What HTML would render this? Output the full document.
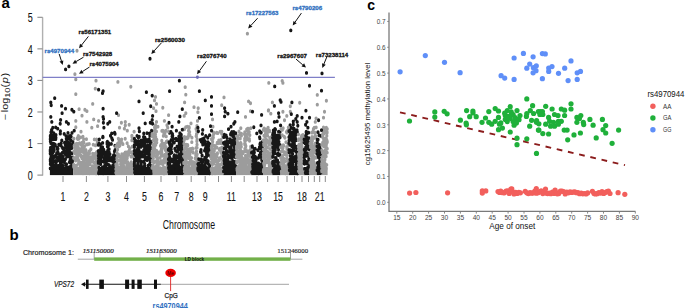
<!DOCTYPE html>
<html><head><meta charset="utf-8"><style>
html,body{margin:0;padding:0;background:#fff;}
body{width:685px;height:308px;overflow:hidden;font-family:"Liberation Sans", sans-serif;}
svg{display:block;}
</style></head><body>
<svg width="685" height="308" viewBox="0 0 685 308">
<rect width="685" height="308" fill="#fff"/>
<text transform="translate(1.60 7.90) scale(1.000 1)" font-size="15.00" font-weight="bold" font-style="normal" text-anchor="start" fill="#000" font-family='"Liberation Sans", sans-serif'>a</text>
<text transform="translate(9.60 240.40) scale(1.000 1)" font-size="15.00" font-weight="bold" font-style="normal" text-anchor="start" fill="#000" font-family='"Liberation Sans", sans-serif'>b</text>
<text transform="translate(367.20 10.20) scale(1.000 1)" font-size="14.00" font-weight="bold" font-style="normal" text-anchor="start" fill="#000" font-family='"Liberation Sans", sans-serif'>c</text>
<path d="M42.6 17.3V175.6" stroke="#b0b0b0" stroke-width="1.4" fill="none"/>
<path d="M37.4 175.10H42.6" stroke="#8a8a8a" stroke-width="1.1"/>
<text transform="translate(32.60 180.00) scale(0.720 1)" font-size="12.40" font-weight="normal" font-style="normal" text-anchor="end" fill="#111" font-family='"Liberation Sans", sans-serif' stroke="#111" stroke-width="0.1">0</text>
<path d="M37.4 143.54H42.6" stroke="#8a8a8a" stroke-width="1.1"/>
<text transform="translate(32.60 148.44) scale(0.720 1)" font-size="12.40" font-weight="normal" font-style="normal" text-anchor="end" fill="#111" font-family='"Liberation Sans", sans-serif' stroke="#111" stroke-width="0.1">1</text>
<path d="M37.4 111.98H42.6" stroke="#8a8a8a" stroke-width="1.1"/>
<text transform="translate(32.60 116.88) scale(0.720 1)" font-size="12.40" font-weight="normal" font-style="normal" text-anchor="end" fill="#111" font-family='"Liberation Sans", sans-serif' stroke="#111" stroke-width="0.1">2</text>
<path d="M37.4 80.42H42.6" stroke="#8a8a8a" stroke-width="1.1"/>
<text transform="translate(32.60 85.32) scale(0.720 1)" font-size="12.40" font-weight="normal" font-style="normal" text-anchor="end" fill="#111" font-family='"Liberation Sans", sans-serif' stroke="#111" stroke-width="0.1">3</text>
<path d="M37.4 48.86H42.6" stroke="#8a8a8a" stroke-width="1.1"/>
<text transform="translate(32.60 53.76) scale(0.720 1)" font-size="12.40" font-weight="normal" font-style="normal" text-anchor="end" fill="#111" font-family='"Liberation Sans", sans-serif' stroke="#111" stroke-width="0.1">4</text>
<path d="M37.4 17.30H42.6" stroke="#8a8a8a" stroke-width="1.1"/>
<text transform="translate(32.60 22.20) scale(0.720 1)" font-size="12.40" font-weight="normal" font-style="normal" text-anchor="end" fill="#111" font-family='"Liberation Sans", sans-serif' stroke="#111" stroke-width="0.1">5</text>
<text id="ylab" transform="translate(7.8 120.6) rotate(-90) scale(1.26 1)" font-size="8.6" font-family='"Liberation Sans", sans-serif' fill="#111">&#8722;<tspan dx="1.6">log</tspan><tspan font-size="7.4" dy="1.7">10</tspan><tspan dy="-1.7">(</tspan><tspan font-style="italic" dx="0.5">p</tspan><tspan dx="0.6">)</tspan></text>
<path d="M63.00 176V182" stroke="#8a8a8a" stroke-width="1"/>
<text transform="translate(63.00 200.50) scale(0.720 1)" font-size="12.20" font-weight="normal" font-style="normal" text-anchor="middle" fill="#111" font-family='"Liberation Sans", sans-serif' stroke="#111" stroke-width="0.1">1</text>
<path d="M86.40 176V182" stroke="#8a8a8a" stroke-width="1"/>
<text transform="translate(86.40 200.50) scale(0.720 1)" font-size="12.20" font-weight="normal" font-style="normal" text-anchor="middle" fill="#111" font-family='"Liberation Sans", sans-serif' stroke="#111" stroke-width="0.1">2</text>
<path d="M107.90 176V182" stroke="#8a8a8a" stroke-width="1"/>
<text transform="translate(107.90 200.50) scale(0.720 1)" font-size="12.20" font-weight="normal" font-style="normal" text-anchor="middle" fill="#111" font-family='"Liberation Sans", sans-serif' stroke="#111" stroke-width="0.1">3</text>
<path d="M126.50 176V182" stroke="#8a8a8a" stroke-width="1"/>
<text transform="translate(126.50 200.50) scale(0.720 1)" font-size="12.20" font-weight="normal" font-style="normal" text-anchor="middle" fill="#111" font-family='"Liberation Sans", sans-serif' stroke="#111" stroke-width="0.1">4</text>
<path d="M144.40 176V182" stroke="#8a8a8a" stroke-width="1"/>
<text transform="translate(144.40 200.50) scale(0.720 1)" font-size="12.20" font-weight="normal" font-style="normal" text-anchor="middle" fill="#111" font-family='"Liberation Sans", sans-serif' stroke="#111" stroke-width="0.1">5</text>
<path d="M161.00 176V182" stroke="#8a8a8a" stroke-width="1"/>
<text transform="translate(161.00 200.50) scale(0.720 1)" font-size="12.20" font-weight="normal" font-style="normal" text-anchor="middle" fill="#111" font-family='"Liberation Sans", sans-serif' stroke="#111" stroke-width="0.1">6</text>
<path d="M176.80 176V182" stroke="#8a8a8a" stroke-width="1"/>
<text transform="translate(176.80 200.50) scale(0.720 1)" font-size="12.20" font-weight="normal" font-style="normal" text-anchor="middle" fill="#111" font-family='"Liberation Sans", sans-serif' stroke="#111" stroke-width="0.1">7</text>
<path d="M191.20 176V182" stroke="#8a8a8a" stroke-width="1"/>
<text transform="translate(191.20 200.50) scale(0.720 1)" font-size="12.20" font-weight="normal" font-style="normal" text-anchor="middle" fill="#111" font-family='"Liberation Sans", sans-serif' stroke="#111" stroke-width="0.1">8</text>
<path d="M205.20 176V182" stroke="#8a8a8a" stroke-width="1"/>
<text transform="translate(205.20 200.50) scale(0.720 1)" font-size="12.20" font-weight="normal" font-style="normal" text-anchor="middle" fill="#111" font-family='"Liberation Sans", sans-serif' stroke="#111" stroke-width="0.1">9</text>
<path d="M218.50 176V182" stroke="#8a8a8a" stroke-width="1"/>
<path d="M231.40 176V182" stroke="#8a8a8a" stroke-width="1"/>
<text transform="translate(231.40 200.50) scale(0.720 1)" font-size="12.20" font-weight="normal" font-style="normal" text-anchor="middle" fill="#111" font-family='"Liberation Sans", sans-serif' stroke="#111" stroke-width="0.1">11</text>
<path d="M244.20 176V182" stroke="#8a8a8a" stroke-width="1"/>
<path d="M257.00 176V182" stroke="#8a8a8a" stroke-width="1"/>
<text transform="translate(257.00 200.50) scale(0.720 1)" font-size="12.20" font-weight="normal" font-style="normal" text-anchor="middle" fill="#111" font-family='"Liberation Sans", sans-serif' stroke="#111" stroke-width="0.1">13</text>
<path d="M267.60 176V182" stroke="#8a8a8a" stroke-width="1"/>
<path d="M278.10 176V182" stroke="#8a8a8a" stroke-width="1"/>
<text transform="translate(278.10 200.50) scale(0.720 1)" font-size="12.20" font-weight="normal" font-style="normal" text-anchor="middle" fill="#111" font-family='"Liberation Sans", sans-serif' stroke="#111" stroke-width="0.1">15</text>
<path d="M287.00 176V182" stroke="#8a8a8a" stroke-width="1"/>
<path d="M294.50 176V182" stroke="#8a8a8a" stroke-width="1"/>
<path d="M302.00 176V182" stroke="#8a8a8a" stroke-width="1"/>
<text transform="translate(302.00 200.50) scale(0.720 1)" font-size="12.20" font-weight="normal" font-style="normal" text-anchor="middle" fill="#111" font-family='"Liberation Sans", sans-serif' stroke="#111" stroke-width="0.1">18</text>
<path d="M308.50 176V182" stroke="#8a8a8a" stroke-width="1"/>
<path d="M314.30 176V182" stroke="#8a8a8a" stroke-width="1"/>
<path d="M319.70 176V182" stroke="#8a8a8a" stroke-width="1"/>
<text transform="translate(319.70 200.50) scale(0.720 1)" font-size="12.20" font-weight="normal" font-style="normal" text-anchor="middle" fill="#111" font-family='"Liberation Sans", sans-serif' stroke="#111" stroke-width="0.1">21</text>
<path d="M325.30 176V182" stroke="#8a8a8a" stroke-width="1"/>
<text transform="translate(189.00 229.10) scale(0.700 1)" font-size="12.50" font-weight="normal" font-style="normal" text-anchor="middle" fill="#111" font-family='"Liberation Sans", sans-serif'>Chromosome</text>
<rect x="49.90" y="167" width="23.40" height="8.1" fill="#171717"/>
<rect x="73.30" y="167" width="24.70" height="8.1" fill="#9c9c9c"/>
<rect x="98.00" y="167" width="17.50" height="8.1" fill="#171717"/>
<rect x="115.50" y="167" width="18.50" height="8.1" fill="#9c9c9c"/>
<rect x="134.00" y="167" width="17.70" height="8.1" fill="#171717"/>
<rect x="151.70" y="167" width="16.30" height="8.1" fill="#9c9c9c"/>
<rect x="168.00" y="167" width="15.40" height="8.1" fill="#171717"/>
<rect x="183.40" y="167" width="14.10" height="8.1" fill="#9c9c9c"/>
<rect x="197.50" y="167" width="12.90" height="8.1" fill="#171717"/>
<rect x="210.40" y="167" width="12.80" height="8.1" fill="#9c9c9c"/>
<rect x="223.20" y="167" width="12.80" height="8.1" fill="#171717"/>
<rect x="236.00" y="167" width="15.20" height="8.1" fill="#9c9c9c"/>
<rect x="251.20" y="167" width="11.80" height="8.1" fill="#171717"/>
<rect x="263.00" y="167" width="9.30" height="8.1" fill="#9c9c9c"/>
<rect x="272.30" y="167" width="8.10" height="8.1" fill="#171717"/>
<rect x="280.40" y="167" width="8.20" height="8.1" fill="#9c9c9c"/>
<rect x="288.60" y="167" width="9.40" height="8.1" fill="#171717"/>
<rect x="298.00" y="167" width="5.80" height="8.1" fill="#9c9c9c"/>
<rect x="303.80" y="167" width="5.80" height="8.1" fill="#171717"/>
<rect x="309.60" y="167" width="7.10" height="8.1" fill="#9c9c9c"/>
<rect x="316.70" y="167" width="4.60" height="8.1" fill="#171717"/>
<rect x="321.30" y="167" width="6.30" height="8.1" fill="#9c9c9c"/>
<path d="M67.1 146.6v.7M69.8 146.1v.7M65.4 158.9v.7M53.9 135.6v.7M61.2 142.9v.7M62.3 169.8v.7M55.9 137.4v.7M69.7 167.2v.7M50.5 150.8v.7M50.6 158.3v.7M71.9 166.9v.7M51.6 129.5v.7M51.1 142.0v.7M68.1 153.9v.7M60.3 144.1v.7M53.7 138.7v.7M66.5 163.9v.7M64.2 133.5v.7M66.4 144.8v.7M66.5 170.9v.7M69.7 156.6v.7M57.2 148.4v.7M60.4 170.8v.7M60.3 158.9v.7M71.4 146.6v.7M68.1 146.2v.7M52.8 159.5v.7M63.2 167.0v.7M71.4 166.4v.7M51.5 155.9v.7M59.3 172.7v.7M50.8 142.7v.7M69.5 155.4v.7M68.2 136.5v.7M57.4 147.5v.7M64.9 153.0v.7M59.0 165.3v.7M51.9 165.6v.7M71.0 152.7v.7M72.8 141.4v.7M71.0 172.4v.7M51.7 149.4v.7M65.6 154.2v.7M67.1 153.4v.7M70.1 159.9v.7M58.9 166.4v.7M60.6 159.7v.7M53.8 147.7v.7M54.1 134.8v.7M61.6 160.8v.7M61.1 162.5v.7M54.1 149.9v.7M65.4 144.4v.7M72.0 132.5v.7M67.0 150.4v.7M64.5 160.5v.7M56.8 160.8v.7M57.8 172.5v.7M72.9 157.0v.7M54.8 160.9v.7M63.5 160.5v.7M67.0 156.2v.7M63.8 151.3v.7M59.9 172.7v.7M60.8 155.7v.7M50.3 138.8v.7M58.8 172.7v.7M62.9 148.1v.7M72.0 152.9v.7M64.6 142.3v.7M71.5 160.9v.7M60.9 171.8v.7M55.7 160.5v.7M67.4 154.5v.7M60.0 164.7v.7M51.3 139.2v.7M50.4 161.0v.7M56.8 153.4v.7M69.3 149.7v.7M69.0 150.0v.7M61.1 154.7v.7M52.2 155.5v.7M56.1 154.7v.7M51.1 156.1v.7M50.7 141.7v.7M66.7 139.7v.7M65.0 151.1v.7M71.2 168.8v.7M57.2 153.3v.7M62.4 161.2v.7M67.9 143.4v.7M52.8 152.2v.7M71.5 147.9v.7M67.7 138.8v.7M68.0 132.5v.7M68.5 167.1v.7M66.6 167.4v.7M53.1 157.6v.7M50.3 149.6v.7M54.9 144.1v.7M71.4 157.2v.7M53.5 148.7v.7M70.6 161.7v.7M63.1 171.6v.7M54.4 144.3v.7M66.1 135.7v.7M62.9 171.4v.7M63.3 170.6v.7M62.1 160.0v.7M56.9 157.0v.7M60.5 158.6v.7M62.8 161.2v.7M51.9 156.3v.7M69.6 137.8v.7M70.0 170.5v.7M71.2 160.2v.7M68.9 155.6v.7M58.6 159.8v.7M71.6 159.5v.7M54.9 167.6v.7M52.2 168.4v.7M62.4 152.3v.7M71.8 164.1v.7M58.8 144.4v.7M56.9 165.2v.7M52.0 134.8v.7M62.6 171.6v.7M56.6 167.7v.7M66.0 147.0v.7M52.5 163.2v.7M53.3 135.2v.7M64.6 170.4v.7M57.8 151.4v.7M67.1 137.1v.7M53.8 170.9v.7M66.4 142.2v.7M66.5 168.2v.7M50.3 150.2v.7M69.6 167.2v.7M52.4 148.8v.7M51.5 146.7v.7M52.3 159.7v.7M60.3 133.2v.7M52.3 167.9v.7M64.2 148.1v.7M65.9 168.8v.7M59.3 159.0v.7M52.2 137.6v.7M58.3 168.0v.7M61.8 140.0v.7M50.3 151.3v.7M67.8 138.2v.7M50.3 168.0v.7M65.8 164.2v.7M55.9 134.5v.7M60.5 165.8v.7M50.3 159.6v.7M55.1 172.8v.7M70.7 140.4v.7M63.1 167.6v.7M68.2 145.9v.7M56.7 152.8v.7M61.8 159.3v.7M56.6 167.3v.7M51.4 152.2v.7M66.0 151.2v.7M55.4 164.2v.7M66.3 167.2v.7M50.9 152.4v.7M58.9 159.8v.7M68.3 150.3v.7M66.8 167.2v.7M69.5 161.9v.7M71.1 136.2v.7M67.9 171.7v.7M69.6 151.2v.7M54.2 156.7v.7M62.1 146.7v.7M59.5 167.9v.7M72.9 142.9v.7M59.2 167.5v.7M62.9 156.3v.7M53.3 168.3v.7M68.0 142.2v.7M66.5 147.1v.7M52.5 166.1v.7M70.8 140.0v.7M72.4 161.4v.7M70.3 156.4v.7M68.5 138.3v.7M53.2 168.0v.7M54.6 155.8v.7M50.4 163.7v.7M66.6 168.0v.7M62.8 165.2v.7M57.9 148.3v.7M67.5 155.5v.7M55.2 144.4v.7M50.5 136.8v.7M71.4 172.2v.7M70.2 135.6v.7M50.9 137.4v.7M53.5 151.1v.7M50.4 141.0v.7M59.0 168.1v.7M55.2 164.9v.7M65.2 172.2v.7M60.2 161.9v.7M57.9 167.4v.7M68.3 148.4v.7M60.4 130.9v.7M58.2 170.5v.7M50.4 136.3v.7M51.0 131.9v.7M66.3 138.4v.7M51.9 131.0v.7M69.1 137.0v.7M56.3 164.4v.7M65.8 146.7v.7M53.9 172.8v.7M53.5 143.3v.7M69.7 143.9v.7M63.6 160.7v.7M66.8 143.4v.7M65.9 141.8v.7M55.7 127.1v.7M71.3 160.4v.7M55.0 170.8v.7M67.8 171.8v.7M61.2 158.3v.7M55.7 138.7v.7M66.7 151.8v.7M51.0 137.4v.7M59.6 156.1v.7M62.2 171.0v.7M63.1 158.8v.7M50.6 147.3v.7M50.3 153.2v.7M53.2 147.4v.7M60.5 144.7v.7M72.5 159.9v.7M70.3 169.3v.7M59.3 156.9v.7M70.6 166.0v.7M52.7 144.8v.7M55.3 145.3v.7M68.8 149.2v.7M64.2 161.8v.7M64.0 169.9v.7M50.4 135.4v.7M71.0 162.2v.7M60.0 153.8v.7M71.3 144.9v.7M61.1 155.1v.7" stroke="#171717" stroke-width="3.1" stroke-linecap="round" fill="none"/>
<path d="M81.4 162.2v.7M87.0 160.8v.7M77.8 150.5v.7M96.8 165.9v.7M85.7 157.3v.7M87.6 165.3v.7M78.9 160.4v.7M88.4 164.6v.7M89.2 152.4v.7M76.6 143.3v.7M80.1 170.4v.7M94.5 170.1v.7M83.5 141.2v.7M95.8 159.3v.7M86.1 170.8v.7M86.7 144.1v.7M76.4 171.1v.7M74.8 158.6v.7M87.3 161.7v.7M74.8 153.1v.7M76.2 150.2v.7M97.6 165.0v.7M97.4 140.5v.7M73.7 164.2v.7M75.1 147.6v.7M84.5 154.9v.7M78.7 161.8v.7M97.0 157.2v.7M90.0 163.2v.7M87.5 154.9v.7M90.9 148.9v.7M89.0 161.7v.7M91.9 160.9v.7M82.1 158.1v.7M76.2 144.1v.7M78.3 135.6v.7M94.5 171.1v.7M88.4 157.6v.7M89.7 159.1v.7M78.1 146.9v.7M95.5 168.6v.7M82.6 143.3v.7M93.3 144.3v.7M85.2 165.7v.7M96.1 173.0v.7M87.5 158.4v.7M78.5 143.4v.7M75.9 150.5v.7M77.5 137.5v.7M85.3 163.3v.7M83.0 172.9v.7M80.2 165.9v.7M80.1 163.9v.7M83.7 138.7v.7M77.5 170.8v.7M89.8 150.8v.7M87.3 162.9v.7M78.6 148.3v.7M76.0 150.7v.7M92.7 166.7v.7M82.1 168.7v.7M78.8 138.4v.7M74.4 168.0v.7M96.1 162.4v.7M89.7 170.8v.7M83.7 150.2v.7M96.6 139.1v.7M78.1 150.8v.7M96.4 172.8v.7M88.7 158.9v.7M88.5 160.7v.7M75.8 150.2v.7M83.4 164.6v.7M87.7 155.3v.7M93.9 162.3v.7M95.3 166.3v.7M75.8 170.6v.7M78.1 151.8v.7M94.2 157.6v.7M73.7 157.6v.7M95.8 171.4v.7M93.5 157.2v.7M92.3 165.7v.7M95.1 164.3v.7M84.1 168.3v.7M83.2 146.5v.7M73.9 138.2v.7M82.8 157.1v.7M83.7 146.5v.7M81.8 165.1v.7M91.1 158.1v.7M82.9 157.0v.7M97.0 143.6v.7M83.4 159.3v.7M92.9 155.4v.7M82.8 167.3v.7M74.5 144.8v.7M88.4 159.0v.7M89.5 164.3v.7M77.3 171.7v.7M94.4 139.1v.7M83.8 142.1v.7M82.8 164.0v.7M77.8 138.8v.7M84.2 160.0v.7M95.0 155.2v.7M92.5 160.0v.7M78.4 153.1v.7M83.6 162.2v.7M74.5 147.3v.7M89.2 163.4v.7M86.8 168.3v.7M95.5 145.1v.7M81.3 155.2v.7M78.2 159.4v.7M76.5 165.1v.7M74.7 150.3v.7M89.4 153.3v.7M97.0 151.5v.7M83.7 152.1v.7M93.1 157.6v.7M83.6 164.1v.7M83.5 146.7v.7M84.5 164.4v.7M89.9 169.6v.7M75.4 145.4v.7M88.3 172.1v.7M94.3 157.5v.7M87.6 168.7v.7M90.6 169.5v.7M97.6 153.4v.7M81.1 156.4v.7M84.7 145.8v.7M73.7 138.3v.7M78.8 148.4v.7M75.5 171.4v.7M75.7 143.7v.7M75.8 169.9v.7M97.0 160.9v.7M92.1 160.0v.7M86.6 152.7v.7M77.6 156.2v.7M82.9 151.5v.7M94.7 154.4v.7M77.5 138.2v.7M86.4 138.7v.7M84.0 160.6v.7M82.1 142.4v.7M84.1 171.1v.7M83.5 168.4v.7M92.7 153.2v.7M74.0 151.1v.7M77.3 154.6v.7M80.5 137.0v.7M76.9 155.4v.7M94.3 153.6v.7M93.3 156.0v.7M90.5 156.8v.7M80.6 148.7v.7M77.7 158.6v.7M96.6 151.9v.7M82.9 136.2v.7M97.5 152.8v.7M77.0 145.4v.7M86.3 167.1v.7M82.3 146.3v.7M73.7 166.4v.7M78.9 163.4v.7M77.5 149.4v.7M77.3 152.9v.7M97.4 172.2v.7M86.0 159.1v.7M97.2 155.7v.7M97.4 165.6v.7M77.2 155.7v.7M93.0 171.3v.7M89.0 151.0v.7M79.4 169.6v.7M87.7 167.6v.7M84.7 151.3v.7M76.4 144.1v.7M83.2 164.3v.7M83.7 150.6v.7M79.3 154.6v.7M97.6 155.6v.7M97.2 154.1v.7M75.5 170.2v.7M80.4 170.8v.7M88.6 172.7v.7M80.2 151.9v.7M79.7 143.0v.7M97.5 141.8v.7M89.2 143.6v.7M79.6 142.7v.7M78.6 163.2v.7M80.3 151.8v.7M84.2 164.4v.7M86.0 157.6v.7M76.7 168.2v.7M84.9 155.6v.7M84.6 159.3v.7M82.5 149.2v.7M73.7 165.5v.7M75.6 160.3v.7M87.9 143.9v.7M89.4 158.5v.7M76.5 156.7v.7M89.1 157.5v.7M85.8 149.6v.7M81.0 144.2v.7M78.7 148.9v.7M78.6 149.3v.7M82.1 149.7v.7M96.9 158.6v.7M75.7 165.8v.7M95.2 168.0v.7M89.5 172.9v.7M76.5 171.6v.7" stroke="#9c9c9c" stroke-width="3.1" stroke-linecap="round" fill="none"/>
<path d="M101.0 170.9v.7M112.9 167.2v.7M99.2 152.9v.7M98.7 160.2v.7M114.8 171.8v.7M105.8 166.9v.7M109.9 166.4v.7M115.1 155.5v.7M108.7 142.8v.7M110.7 166.9v.7M100.9 152.1v.7M112.9 169.6v.7M113.4 155.2v.7M106.0 155.1v.7M109.0 171.0v.7M101.0 156.0v.7M101.8 156.5v.7M113.0 156.6v.7M107.5 146.2v.7M101.1 146.8v.7M113.3 160.8v.7M113.7 166.7v.7M113.3 171.8v.7M102.6 142.6v.7M103.0 148.9v.7M105.8 162.6v.7M112.4 157.1v.7M107.1 169.6v.7M109.1 148.7v.7M107.6 163.9v.7M102.8 152.9v.7M107.3 159.9v.7M108.2 151.3v.7M98.4 162.6v.7M108.9 153.0v.7M105.8 158.4v.7M100.6 163.7v.7M98.6 172.9v.7M98.4 150.6v.7M114.2 168.8v.7M99.0 167.2v.7M114.5 158.0v.7M108.7 144.7v.7M101.0 171.9v.7M108.8 148.5v.7M109.9 167.4v.7M114.5 151.0v.7M107.7 171.1v.7M111.3 143.5v.7M114.2 164.5v.7M107.1 143.5v.7M98.4 161.1v.7M101.8 147.9v.7M102.5 146.7v.7M112.9 164.8v.7M112.7 172.6v.7M104.4 158.8v.7M99.3 139.0v.7M104.3 166.4v.7M99.0 171.3v.7M98.4 155.3v.7M103.9 161.5v.7M102.4 167.0v.7M110.1 157.8v.7M100.8 148.6v.7M100.7 157.7v.7M107.8 150.1v.7M107.2 156.4v.7M102.7 171.1v.7M113.9 154.6v.7M100.4 144.0v.7M101.8 155.5v.7M102.5 150.0v.7M104.4 171.9v.7M98.6 157.8v.7M106.5 159.3v.7M100.7 150.6v.7M102.1 170.2v.7M101.5 169.8v.7M104.0 161.2v.7M98.4 144.5v.7M107.8 152.8v.7M101.8 154.0v.7M113.7 162.4v.7M112.4 169.1v.7M108.4 149.9v.7M111.7 160.4v.7M110.7 168.0v.7M104.3 161.2v.7M103.7 149.4v.7M103.2 160.9v.7M102.4 168.0v.7M103.5 150.2v.7M98.8 157.4v.7M110.5 135.4v.7M109.4 166.7v.7M99.2 172.5v.7M102.3 170.2v.7M109.7 160.1v.7M109.2 155.9v.7M101.0 154.4v.7M110.1 169.0v.7M102.7 137.1v.7M115.0 133.5v.7M103.4 153.2v.7M107.4 170.6v.7M101.1 156.2v.7M104.7 165.4v.7M114.0 170.6v.7M102.9 149.6v.7M104.1 157.4v.7M111.8 157.5v.7M115.0 145.3v.7M102.6 167.0v.7M106.3 154.1v.7M113.3 161.1v.7M107.4 141.3v.7M115.1 161.9v.7M111.0 169.5v.7M105.9 172.8v.7M99.1 143.0v.7M103.0 136.7v.7M108.0 151.4v.7M115.1 149.6v.7M104.7 157.4v.7M112.9 169.9v.7M108.8 164.6v.7M109.3 165.0v.7M104.9 154.7v.7M112.5 139.5v.7M107.1 141.7v.7M100.5 161.6v.7M104.8 151.8v.7M101.1 147.1v.7M109.0 151.5v.7M107.9 171.5v.7M109.6 157.4v.7M105.5 171.1v.7M107.2 151.6v.7M102.9 136.4v.7M105.9 163.4v.7M113.3 158.0v.7M101.6 160.7v.7M111.8 137.7v.7M109.9 153.8v.7M103.1 172.9v.7M98.7 152.4v.7M107.9 155.3v.7M112.4 166.2v.7M107.6 170.1v.7" stroke="#171717" stroke-width="3.1" stroke-linecap="round" fill="none"/>
<path d="M118.4 138.2v.7M118.9 146.0v.7M115.9 164.1v.7M131.1 156.2v.7M122.5 161.6v.7M132.7 156.2v.7M123.0 169.1v.7M127.9 171.4v.7M125.5 168.7v.7M119.8 145.3v.7M118.6 171.4v.7M127.7 151.7v.7M131.2 161.8v.7M132.9 165.6v.7M126.8 152.1v.7M130.9 163.1v.7M131.5 155.5v.7M119.4 168.2v.7M127.7 163.2v.7M124.6 172.7v.7M122.7 158.2v.7M133.5 151.4v.7M118.5 169.7v.7M125.3 152.0v.7M117.5 160.8v.7M128.3 165.4v.7M118.9 167.7v.7M117.9 169.6v.7M121.1 165.0v.7M126.1 169.2v.7M117.4 156.8v.7M119.8 169.6v.7M132.2 169.8v.7M129.4 149.5v.7M121.9 160.0v.7M117.3 164.1v.7M120.7 139.6v.7M117.4 143.5v.7M117.5 149.3v.7M117.4 166.5v.7M118.4 154.0v.7M124.6 158.6v.7M124.2 162.2v.7M117.4 159.8v.7M132.0 136.6v.7M115.9 172.3v.7M124.1 159.9v.7M124.7 155.3v.7M123.2 154.7v.7M119.5 170.0v.7M131.1 151.8v.7M121.6 139.0v.7M123.4 160.5v.7M125.9 155.2v.7M125.6 159.6v.7M116.2 166.0v.7M116.6 170.4v.7M127.3 156.0v.7M122.1 158.5v.7M117.8 172.8v.7M128.5 154.1v.7M123.1 172.2v.7M120.3 156.4v.7M115.9 168.8v.7M130.6 170.2v.7M127.6 161.5v.7M123.3 161.2v.7M119.1 167.5v.7M129.9 163.6v.7M129.8 148.0v.7M123.3 168.4v.7M125.8 161.7v.7M122.9 169.8v.7M122.0 167.5v.7M119.0 141.6v.7M132.2 146.2v.7M119.7 169.1v.7M133.6 152.9v.7M121.3 167.3v.7M129.1 164.3v.7M117.0 152.8v.7M128.9 171.2v.7M132.3 169.7v.7M132.3 164.3v.7M125.0 167.5v.7M132.7 170.8v.7M119.2 168.3v.7M130.0 168.6v.7M120.6 163.8v.7M120.1 142.2v.7M116.9 157.5v.7M127.2 164.8v.7M129.8 168.4v.7M121.9 153.8v.7M119.3 140.7v.7M123.3 164.7v.7M132.9 165.8v.7M127.4 164.6v.7M128.4 146.1v.7M130.5 167.4v.7M127.0 164.0v.7M125.2 138.4v.7M122.5 155.0v.7M127.1 142.8v.7M130.1 170.6v.7M124.2 166.3v.7M125.3 169.1v.7M115.9 145.9v.7M120.7 161.4v.7M128.4 152.7v.7M131.9 140.1v.7M119.8 159.8v.7M118.6 144.7v.7M126.8 169.7v.7M131.3 168.1v.7M118.1 166.9v.7M122.9 143.7v.7M131.9 135.2v.7M127.1 161.5v.7M121.9 142.2v.7M130.8 165.7v.7M127.2 157.9v.7M118.1 170.5v.7M128.0 172.0v.7M119.7 172.5v.7M123.4 167.5v.7M123.6 171.2v.7M122.8 169.4v.7M117.8 145.3v.7M122.8 160.9v.7M122.0 161.7v.7M124.6 153.0v.7" stroke="#9c9c9c" stroke-width="3.1" stroke-linecap="round" fill="none"/>
<path d="M140.2 172.3v.7M147.5 141.3v.7M150.9 142.7v.7M147.1 159.7v.7M139.5 160.4v.7M137.4 149.0v.7M135.3 154.8v.7M145.3 154.0v.7M151.3 152.8v.7M148.2 153.5v.7M141.1 140.1v.7M138.3 136.9v.7M147.8 168.9v.7M138.9 166.1v.7M145.2 152.1v.7M138.2 160.0v.7M134.4 165.7v.7M138.9 159.3v.7M148.0 139.6v.7M150.7 157.6v.7M145.1 145.3v.7M143.7 143.5v.7M139.2 136.4v.7M144.9 142.5v.7M141.9 156.2v.7M148.2 151.8v.7M145.2 141.9v.7M137.2 165.6v.7M149.2 158.6v.7M143.5 169.6v.7M144.6 154.8v.7M139.4 131.0v.7M141.7 152.6v.7M146.2 172.8v.7M150.0 151.7v.7M150.5 169.4v.7M148.5 145.3v.7M147.0 171.3v.7M141.7 152.1v.7M140.6 165.8v.7M134.4 159.0v.7M141.3 141.1v.7M140.0 151.8v.7M136.0 140.5v.7M144.4 149.4v.7M144.6 165.6v.7M142.4 169.2v.7M143.9 151.1v.7M141.0 146.6v.7M142.1 168.1v.7M143.7 142.3v.7M150.2 156.1v.7M144.2 140.7v.7M141.0 161.7v.7M141.8 153.1v.7M148.1 165.2v.7M144.6 146.9v.7M150.9 170.0v.7M137.9 147.5v.7M137.9 170.9v.7M149.6 171.1v.7M137.9 152.6v.7M144.7 146.5v.7M149.2 138.9v.7M150.3 142.2v.7M149.2 147.0v.7M150.1 171.9v.7M137.1 135.5v.7M148.9 150.3v.7M149.9 135.2v.7M134.5 168.8v.7M137.6 171.0v.7M142.4 152.3v.7M137.0 172.2v.7M138.6 170.3v.7M141.1 162.8v.7M148.0 145.1v.7M144.3 168.9v.7M147.9 149.1v.7M137.7 161.0v.7M151.3 172.8v.7M142.8 166.8v.7M143.6 136.6v.7M143.8 170.7v.7M144.0 172.4v.7M148.8 147.5v.7M136.5 144.0v.7M135.5 171.9v.7M149.8 163.6v.7M141.7 167.2v.7M138.3 141.0v.7M146.6 139.5v.7M135.8 154.3v.7M145.8 169.9v.7M147.2 149.9v.7M134.4 162.8v.7M135.9 154.6v.7M151.3 170.6v.7M143.3 170.7v.7M150.9 147.7v.7M142.0 142.4v.7M136.0 168.6v.7M143.8 150.0v.7M138.4 137.3v.7M148.6 171.6v.7M136.2 156.0v.7M135.8 159.7v.7M138.6 143.9v.7M138.3 168.4v.7M141.3 161.1v.7M134.4 153.2v.7M141.2 166.9v.7M139.3 158.3v.7M136.5 158.6v.7M134.9 141.2v.7M134.4 144.5v.7M148.1 139.8v.7M145.2 144.7v.7M140.4 167.2v.7M151.2 165.5v.7M146.9 151.7v.7M134.7 172.0v.7M137.0 149.5v.7M150.3 161.0v.7M138.1 147.5v.7M140.1 168.2v.7M148.3 156.7v.7M137.8 166.1v.7M139.0 153.7v.7M134.4 150.4v.7M144.6 163.4v.7M143.3 172.7v.7M148.6 172.6v.7M147.2 146.1v.7M134.4 161.7v.7M138.4 143.4v.7M134.4 146.8v.7M142.9 168.2v.7M142.6 167.5v.7M136.0 150.9v.7M139.5 155.1v.7M137.9 166.3v.7M138.4 146.7v.7M146.9 145.8v.7M145.2 158.9v.7M139.0 150.1v.7M150.8 142.5v.7M144.0 171.7v.7M141.8 170.0v.7M143.8 138.7v.7M134.4 138.3v.7M142.4 169.8v.7M143.9 161.2v.7M143.5 145.3v.7M148.8 153.4v.7M144.2 155.1v.7M138.9 143.2v.7M139.9 156.1v.7M144.3 142.1v.7M148.9 141.1v.7M142.1 170.6v.7M146.2 158.9v.7M150.5 156.4v.7M144.9 170.9v.7M135.1 141.8v.7M144.9 141.9v.7M141.3 169.8v.7M134.4 164.1v.7M136.8 170.9v.7M138.0 155.5v.7M149.7 133.0v.7M140.7 143.9v.7M149.8 145.7v.7M150.3 151.5v.7M149.8 154.5v.7M151.3 141.2v.7M145.2 147.2v.7M149.2 147.0v.7M147.0 132.7v.7M146.5 157.4v.7M138.3 148.5v.7M145.2 138.2v.7M141.1 163.9v.7M137.8 163.6v.7M144.5 156.6v.7M137.9 166.2v.7M139.5 160.5v.7M149.3 150.2v.7M150.2 157.7v.7M134.8 141.2v.7M144.8 137.1v.7" stroke="#171717" stroke-width="3.1" stroke-linecap="round" fill="none"/>
<path d="M166.7 172.8v.7M166.2 136.1v.7M156.2 167.2v.7M152.3 160.7v.7M163.8 162.1v.7M154.5 130.5v.7M154.6 169.8v.7M162.3 155.4v.7M161.0 144.5v.7M162.8 164.1v.7M161.9 149.4v.7M153.0 144.2v.7M167.1 140.8v.7M166.8 161.1v.7M152.1 135.0v.7M167.4 153.5v.7M164.2 143.4v.7M156.8 163.4v.7M155.5 124.9v.7M156.8 170.2v.7M159.1 162.2v.7M163.9 133.6v.7M153.7 155.5v.7M164.9 146.7v.7M161.3 149.1v.7M165.0 171.9v.7M153.8 147.9v.7M155.8 144.3v.7M163.5 160.4v.7M163.7 170.5v.7M165.1 167.5v.7M164.3 147.3v.7M155.4 134.1v.7M157.8 163.1v.7M164.4 159.1v.7M152.7 134.1v.7M165.6 159.3v.7M155.1 141.2v.7M154.0 172.2v.7M152.1 152.2v.7M153.3 157.8v.7M164.2 171.6v.7M156.2 156.1v.7M153.7 162.3v.7M161.4 148.7v.7M167.2 156.3v.7M159.9 163.2v.7M154.8 167.0v.7M155.7 136.8v.7M164.4 167.9v.7M165.6 155.4v.7M156.7 157.1v.7M163.4 130.9v.7M156.0 126.3v.7M165.5 149.8v.7M154.0 151.6v.7M153.4 160.5v.7M165.9 130.4v.7M166.2 147.2v.7M153.0 165.1v.7M163.1 171.5v.7M154.5 148.5v.7M158.0 172.8v.7M158.2 166.4v.7M161.2 155.0v.7M156.3 160.8v.7M153.8 170.5v.7M164.8 132.8v.7M154.5 132.7v.7M158.1 157.6v.7M158.5 167.7v.7M167.2 164.1v.7M167.6 168.0v.7M165.1 132.1v.7M165.9 154.4v.7M156.8 139.4v.7M152.3 155.4v.7M152.1 167.5v.7M157.4 152.3v.7M163.6 166.9v.7M167.6 158.2v.7M157.6 154.0v.7M156.0 166.4v.7M156.3 141.2v.7M159.2 170.0v.7M164.5 173.0v.7M152.4 135.4v.7M161.2 170.3v.7M165.2 161.6v.7M158.9 162.7v.7M163.8 162.2v.7M166.6 152.9v.7M153.6 136.7v.7M157.2 160.6v.7M155.1 145.5v.7M167.0 124.7v.7M161.8 140.4v.7M167.4 166.5v.7M160.5 152.9v.7M153.2 140.2v.7M156.8 151.1v.7M164.2 133.3v.7M164.8 156.0v.7M157.5 159.5v.7M154.8 152.3v.7M156.5 150.3v.7M166.4 141.2v.7M161.8 153.3v.7M161.7 152.5v.7M156.0 167.2v.7M160.4 167.7v.7M162.9 170.1v.7M163.2 161.3v.7M166.8 168.4v.7M153.8 135.6v.7M154.4 152.7v.7M160.9 169.9v.7M156.0 169.3v.7M156.8 151.9v.7M156.7 142.1v.7M155.4 138.1v.7M155.1 127.7v.7M152.5 154.5v.7M166.4 141.7v.7M164.2 160.1v.7M164.7 158.5v.7M156.0 168.0v.7M164.3 158.7v.7M154.1 152.0v.7M163.1 172.9v.7M157.0 159.8v.7M164.8 169.6v.7M167.6 150.1v.7M152.1 133.8v.7M167.5 168.9v.7M161.9 130.6v.7M153.0 148.0v.7M167.6 154.1v.7M153.2 134.9v.7M164.5 173.0v.7M159.7 162.3v.7M162.2 142.9v.7M159.6 167.8v.7M156.4 131.1v.7M156.1 170.3v.7M164.9 171.9v.7M162.4 145.4v.7M166.3 153.5v.7M164.9 154.2v.7M160.0 157.5v.7M152.7 165.7v.7M161.8 151.9v.7M153.3 147.3v.7M161.6 160.8v.7M152.1 135.7v.7M158.0 168.4v.7M155.0 140.5v.7M160.0 161.6v.7M155.3 141.5v.7M154.3 130.3v.7M154.5 136.1v.7M157.4 157.2v.7M165.3 145.4v.7M155.5 125.6v.7M160.6 145.5v.7M163.9 155.3v.7M152.2 153.4v.7M166.4 141.8v.7M164.5 167.7v.7M153.1 149.9v.7M158.3 164.6v.7M152.1 155.7v.7M156.2 152.5v.7M162.5 162.8v.7M159.5 151.7v.7M154.3 151.4v.7M154.6 127.1v.7M163.4 135.5v.7M152.1 152.1v.7" stroke="#9c9c9c" stroke-width="3.1" stroke-linecap="round" fill="none"/>
<path d="M170.0 144.9v.7M181.5 147.3v.7M170.3 158.2v.7M174.1 155.4v.7M176.7 155.5v.7M171.8 152.1v.7M173.9 164.7v.7M174.0 156.3v.7M178.6 148.6v.7M179.1 162.8v.7M181.0 136.7v.7M172.4 133.6v.7M172.0 168.6v.7M177.1 146.1v.7M179.0 160.6v.7M169.1 141.8v.7M171.9 144.6v.7M174.4 154.7v.7M182.4 140.7v.7M177.4 151.2v.7M182.7 172.2v.7M178.4 139.0v.7M177.2 165.8v.7M171.1 148.7v.7M168.5 158.9v.7M180.7 155.8v.7M171.2 139.5v.7M171.2 149.1v.7M172.1 136.0v.7M174.9 148.3v.7M176.0 163.0v.7M168.6 163.9v.7M180.0 144.4v.7M169.4 162.1v.7M178.9 149.0v.7M181.1 141.4v.7M170.4 153.1v.7M171.0 151.7v.7M174.9 164.1v.7M181.1 135.2v.7M175.5 159.2v.7M178.5 140.0v.7M168.4 162.7v.7M173.4 138.6v.7M178.9 165.6v.7M182.5 149.7v.7M170.6 150.7v.7M178.5 163.3v.7M178.9 136.0v.7M181.1 160.3v.7M172.0 159.7v.7M180.0 167.2v.7M173.8 159.1v.7M182.5 164.2v.7M179.8 153.7v.7M174.8 158.4v.7M178.3 148.3v.7M179.9 145.8v.7M172.7 135.4v.7M176.4 169.5v.7M177.6 161.1v.7M169.9 162.0v.7M181.4 170.8v.7M180.3 145.2v.7M169.2 165.7v.7M172.1 165.8v.7M172.7 140.9v.7M176.4 167.0v.7M180.4 145.2v.7M172.8 159.1v.7M172.8 161.2v.7M180.6 138.5v.7M175.3 162.8v.7M181.7 144.3v.7M169.6 148.6v.7M169.6 164.1v.7M177.8 166.4v.7M168.6 149.6v.7M169.8 143.4v.7M171.0 152.0v.7M168.4 149.4v.7M170.5 131.8v.7M182.6 170.5v.7M169.7 162.0v.7M176.6 169.9v.7M170.7 147.5v.7M175.6 150.2v.7M177.7 162.5v.7M183.0 158.0v.7M171.8 144.8v.7M172.8 167.5v.7M170.8 146.5v.7M174.2 157.2v.7M177.1 168.9v.7M171.6 145.8v.7M168.8 168.2v.7M179.6 153.9v.7M181.6 167.1v.7M169.4 148.0v.7M182.9 171.2v.7M179.3 140.1v.7M169.7 171.7v.7M183.0 164.5v.7M182.5 148.8v.7M176.3 161.9v.7M179.8 154.8v.7M170.3 148.0v.7M169.7 148.6v.7M181.0 150.6v.7M180.4 142.5v.7M180.0 157.6v.7M168.9 171.5v.7M180.4 172.0v.7M174.2 142.3v.7M168.6 167.4v.7M179.3 143.4v.7M182.1 167.2v.7M183.0 160.8v.7M180.9 138.9v.7M177.6 157.0v.7M173.7 171.5v.7M170.0 167.7v.7M183.0 160.0v.7M181.9 138.7v.7M177.0 151.4v.7M179.5 161.4v.7M176.4 139.7v.7M169.6 132.5v.7M181.2 134.3v.7M179.7 154.5v.7M181.3 137.2v.7M169.6 156.9v.7M182.9 144.3v.7M183.0 169.9v.7M169.3 153.7v.7M173.1 169.2v.7M180.8 153.1v.7M176.0 138.2v.7M179.8 145.0v.7M169.3 142.8v.7M179.1 141.6v.7M168.7 163.5v.7M182.2 153.3v.7M177.6 167.4v.7M178.6 155.5v.7M168.9 149.8v.7M176.6 169.9v.7M176.6 156.2v.7M178.1 165.3v.7M182.4 162.9v.7M182.5 168.1v.7M169.8 142.8v.7" stroke="#171717" stroke-width="3.1" stroke-linecap="round" fill="none"/>
<path d="M190.5 160.6v.7M196.1 156.8v.7M184.1 156.0v.7M192.9 148.5v.7M196.9 161.1v.7M184.0 156.2v.7M193.2 168.7v.7M193.2 152.3v.7M192.6 162.0v.7M187.1 156.6v.7M184.4 168.7v.7M189.6 131.5v.7M185.2 161.7v.7M184.0 143.4v.7M191.8 161.3v.7M196.5 151.1v.7M191.0 169.8v.7M188.8 167.2v.7M189.8 154.6v.7M192.4 165.0v.7M183.8 151.4v.7M191.4 162.4v.7M190.8 151.1v.7M184.2 139.8v.7M195.8 158.4v.7M197.1 171.5v.7M192.2 169.8v.7M187.0 138.0v.7M195.8 154.8v.7M197.0 144.3v.7M187.4 136.8v.7M184.5 168.0v.7M196.5 133.7v.7M196.1 128.6v.7M185.5 170.4v.7M187.1 151.3v.7M185.0 156.8v.7M184.6 157.1v.7M186.3 145.7v.7M187.3 126.3v.7M189.5 163.8v.7M196.2 135.8v.7M183.8 162.4v.7M185.0 166.6v.7M188.7 165.8v.7M184.5 144.5v.7M197.1 154.1v.7M186.7 167.0v.7M190.7 150.6v.7M196.1 147.6v.7M183.8 162.7v.7M183.8 129.0v.7M192.9 166.0v.7M195.6 162.9v.7M189.2 150.2v.7M186.6 148.2v.7M190.3 148.8v.7M190.9 149.1v.7M186.3 167.0v.7M191.8 141.8v.7M186.9 154.8v.7M197.1 132.1v.7M188.2 169.8v.7M187.8 172.7v.7M195.1 166.5v.7M184.5 171.2v.7M187.9 162.3v.7M197.1 157.4v.7M186.0 160.4v.7M185.8 126.8v.7M196.7 130.2v.7M186.4 144.2v.7M189.9 154.1v.7M186.5 172.8v.7M194.1 171.2v.7M184.5 136.5v.7M189.1 148.8v.7M191.9 163.4v.7M190.0 168.2v.7M192.5 148.0v.7M186.7 145.0v.7M195.2 157.9v.7M188.5 130.4v.7M189.0 126.5v.7M191.8 167.3v.7M193.8 164.8v.7M185.9 162.1v.7M196.9 133.1v.7M193.6 161.8v.7M184.5 128.8v.7M185.7 157.1v.7M186.7 151.5v.7M197.1 138.9v.7M187.6 144.5v.7M189.9 157.6v.7M186.8 151.1v.7M196.9 140.8v.7M188.5 172.0v.7M185.3 159.0v.7M194.3 171.9v.7M184.5 148.2v.7M187.2 152.0v.7M185.4 155.3v.7M185.6 137.8v.7M186.2 165.1v.7M191.1 148.6v.7M191.5 157.6v.7M194.7 172.9v.7M188.0 157.0v.7M195.7 167.0v.7M191.8 161.9v.7M185.1 168.4v.7M196.5 135.6v.7M189.5 156.6v.7M193.5 166.9v.7M190.2 158.5v.7M197.1 167.6v.7M196.5 162.2v.7M188.8 133.8v.7M196.3 153.0v.7M188.7 168.0v.7M188.7 158.0v.7M188.0 151.7v.7M197.0 125.6v.7M189.9 168.6v.7M185.7 153.6v.7M197.0 147.2v.7M188.1 137.4v.7M190.5 171.7v.7M189.9 134.9v.7M191.8 163.2v.7M191.9 137.3v.7M187.7 145.1v.7" stroke="#9c9c9c" stroke-width="3.1" stroke-linecap="round" fill="none"/>
<path d="M208.4 154.5v.7M206.4 152.2v.7M197.9 168.5v.7M208.0 141.8v.7M201.0 149.5v.7M208.4 163.5v.7M202.3 138.9v.7M206.3 159.2v.7M210.0 146.6v.7M203.6 169.2v.7M207.5 160.7v.7M206.2 170.8v.7M208.4 146.7v.7M207.8 137.4v.7M205.6 162.4v.7M205.4 172.2v.7M201.4 141.2v.7M205.5 167.4v.7M200.9 160.8v.7M208.4 148.1v.7M204.7 172.3v.7M206.6 154.4v.7M208.1 160.7v.7M197.9 169.4v.7M209.5 172.9v.7M209.6 165.3v.7M204.1 172.8v.7M206.3 145.9v.7M209.6 134.7v.7M204.0 166.1v.7M205.0 143.6v.7M205.3 169.9v.7M201.6 166.2v.7M201.7 161.6v.7M205.0 165.8v.7M210.0 143.8v.7M205.1 164.4v.7M205.8 135.6v.7M209.8 147.0v.7M203.6 166.5v.7M202.3 172.2v.7M207.3 145.0v.7M201.2 158.7v.7M207.2 152.0v.7M204.3 159.6v.7M204.1 170.6v.7M209.9 155.2v.7M209.4 167.1v.7M205.7 150.5v.7M202.7 167.4v.7M202.5 161.9v.7M209.5 150.6v.7M197.9 167.9v.7M198.5 164.5v.7M206.0 172.3v.7M200.1 171.6v.7M204.8 159.0v.7M205.9 146.3v.7M206.3 167.0v.7M199.2 167.2v.7M209.7 165.7v.7M197.9 164.0v.7M202.5 142.2v.7M206.7 172.3v.7M198.4 130.9v.7M205.3 148.8v.7M198.6 163.0v.7M201.1 151.7v.7M202.1 155.1v.7M202.4 133.5v.7M202.5 140.5v.7M205.0 140.9v.7M198.8 158.8v.7M206.6 160.9v.7M200.2 172.2v.7M208.8 143.0v.7M206.8 148.5v.7M207.2 148.7v.7M204.0 159.2v.7M203.9 138.0v.7M198.2 170.3v.7M200.6 151.6v.7M210.0 145.8v.7M200.4 139.6v.7M203.9 167.8v.7M204.6 150.3v.7M206.5 156.2v.7M202.8 144.2v.7M199.0 165.3v.7M204.9 165.9v.7M206.6 149.6v.7M207.1 144.0v.7M208.4 172.6v.7M202.6 165.2v.7M201.1 164.5v.7M199.6 172.0v.7M205.7 147.5v.7M204.9 157.4v.7M206.0 169.7v.7M208.6 169.8v.7M207.9 171.0v.7M207.7 169.8v.7" stroke="#171717" stroke-width="3.1" stroke-linecap="round" fill="none"/>
<path d="M221.4 169.7v.7M211.4 138.7v.7M212.6 167.9v.7M220.2 157.5v.7M214.2 150.0v.7M221.8 131.4v.7M213.8 133.4v.7M213.7 154.6v.7M215.3 160.9v.7M222.5 171.7v.7M214.7 161.1v.7M222.8 147.6v.7M213.6 159.1v.7M216.0 154.8v.7M211.3 162.1v.7M213.3 137.1v.7M212.8 135.6v.7M212.5 163.9v.7M217.4 152.9v.7M222.8 154.5v.7M219.9 148.4v.7M222.0 147.0v.7M219.3 169.6v.7M213.3 169.5v.7M216.6 160.1v.7M217.3 142.2v.7M213.5 157.0v.7M214.1 156.6v.7M215.0 172.9v.7M215.6 159.5v.7M212.8 153.7v.7M218.8 169.0v.7M217.0 156.4v.7M219.4 158.2v.7M215.4 169.9v.7M215.3 167.5v.7M218.8 165.5v.7M222.1 142.7v.7M212.1 148.8v.7M212.1 156.3v.7M219.2 141.0v.7M222.7 149.6v.7M220.9 141.4v.7M221.5 171.3v.7M220.9 151.4v.7M220.9 152.0v.7M213.1 144.7v.7M222.8 161.0v.7M216.6 132.4v.7M221.9 154.4v.7M211.4 151.3v.7M221.8 149.9v.7M222.2 164.1v.7M222.8 136.3v.7M217.2 142.9v.7M213.9 151.5v.7M217.6 143.1v.7M211.3 147.3v.7M219.3 165.3v.7M218.4 165.3v.7M211.6 145.6v.7M211.9 153.8v.7M213.7 133.7v.7M220.1 168.6v.7M216.0 156.6v.7M216.4 160.2v.7M221.9 150.6v.7M216.7 164.7v.7M210.8 152.2v.7M214.2 170.4v.7M219.3 160.1v.7M215.3 167.7v.7M214.1 153.7v.7M218.4 168.5v.7M212.3 164.1v.7M218.6 164.1v.7M212.8 161.0v.7M216.9 147.3v.7M220.3 148.3v.7M212.2 148.1v.7M217.7 162.2v.7M213.7 155.1v.7M220.0 169.9v.7M222.6 161.9v.7M218.8 140.1v.7M220.8 170.5v.7M222.2 149.9v.7M220.2 164.7v.7M219.5 149.6v.7M220.9 139.6v.7M214.1 160.9v.7M217.6 170.0v.7M212.2 168.8v.7M212.5 149.9v.7M222.6 172.5v.7M222.7 149.8v.7M216.8 153.8v.7M217.1 165.8v.7M211.1 154.0v.7M220.1 142.8v.7M215.1 145.5v.7M210.9 156.7v.7M220.2 131.2v.7M215.5 157.2v.7M211.2 168.5v.7M221.7 133.2v.7M222.8 151.3v.7M211.3 158.4v.7M214.0 163.3v.7M214.4 148.7v.7M212.2 173.0v.7M222.6 159.3v.7M212.6 141.2v.7M217.6 163.0v.7M213.5 132.1v.7M214.2 150.8v.7M221.3 163.7v.7M212.4 157.0v.7M217.4 153.2v.7M212.8 138.7v.7" stroke="#9c9c9c" stroke-width="3.1" stroke-linecap="round" fill="none"/>
<path d="M231.9 143.9v.7M228.2 165.6v.7M233.9 165.9v.7M230.3 165.8v.7M223.6 152.2v.7M225.7 146.2v.7M231.7 144.3v.7M229.3 155.8v.7M234.8 155.8v.7M226.8 137.0v.7M223.6 171.1v.7M230.8 153.6v.7M229.6 157.1v.7M233.6 150.4v.7M235.2 134.9v.7M225.2 147.7v.7M231.7 166.4v.7M233.8 165.6v.7M232.7 143.3v.7M235.3 167.1v.7M226.4 164.2v.7M226.2 145.5v.7M224.9 158.5v.7M235.3 142.6v.7M224.3 143.5v.7M233.9 166.2v.7M235.4 156.1v.7M224.7 154.7v.7M225.4 171.2v.7M229.5 169.9v.7M227.8 161.4v.7M229.1 146.8v.7M233.8 170.9v.7M231.6 140.4v.7M227.6 171.1v.7M230.8 154.5v.7M231.0 169.4v.7M225.5 165.7v.7M223.7 167.0v.7M235.6 165.7v.7M234.0 146.5v.7M227.7 144.2v.7M233.6 153.1v.7M232.0 163.1v.7M230.8 165.6v.7M224.4 163.3v.7M232.8 155.7v.7M229.5 165.9v.7M233.6 154.5v.7M227.4 167.6v.7M226.9 150.6v.7M225.0 135.4v.7M235.6 145.2v.7M224.4 160.9v.7M230.6 146.7v.7M223.9 167.4v.7M227.7 167.7v.7M232.3 140.8v.7M225.4 171.0v.7M227.0 141.0v.7M230.7 134.2v.7M234.2 156.3v.7M235.6 165.9v.7M231.3 151.6v.7M227.6 143.5v.7M235.6 140.1v.7M229.4 168.4v.7M226.4 150.8v.7M234.4 155.2v.7M235.5 151.1v.7M225.8 143.0v.7M234.6 141.6v.7M230.9 157.3v.7M235.1 141.8v.7M229.9 161.9v.7M235.0 139.8v.7M235.0 138.6v.7M234.6 138.5v.7M231.9 131.6v.7M229.0 166.5v.7M226.1 164.5v.7M229.9 138.7v.7M233.8 144.2v.7M229.6 169.3v.7M224.4 134.4v.7M227.5 154.1v.7M223.6 155.5v.7M233.2 169.9v.7M226.9 137.6v.7M224.5 157.7v.7M234.3 148.9v.7M226.3 168.6v.7M228.0 170.6v.7M235.5 156.9v.7M235.6 161.8v.7M225.7 160.2v.7M224.3 148.0v.7M227.9 172.2v.7M234.8 164.3v.7M225.6 148.0v.7M230.9 171.9v.7M226.3 159.3v.7M230.5 162.4v.7M233.8 131.6v.7M230.9 154.4v.7M228.4 141.7v.7M232.8 135.8v.7M233.4 162.1v.7M232.8 160.5v.7M228.9 171.6v.7M224.2 160.1v.7M226.4 167.5v.7M227.7 151.5v.7M223.6 142.5v.7M232.2 153.9v.7M228.9 164.5v.7M232.8 139.9v.7M227.5 146.0v.7M235.2 152.8v.7M229.8 148.7v.7M234.0 165.7v.7M228.4 141.6v.7M227.5 159.1v.7M228.2 155.8v.7M234.6 161.6v.7M227.4 172.2v.7M224.7 162.1v.7M225.7 152.5v.7M225.3 157.1v.7M231.6 167.4v.7M229.7 151.3v.7M231.9 157.8v.7M232.5 134.1v.7M231.1 162.4v.7M226.7 169.4v.7M235.0 139.0v.7M226.1 135.0v.7M226.1 169.3v.7M234.5 142.7v.7M223.6 156.3v.7M226.3 163.9v.7M225.1 141.9v.7M230.4 141.9v.7M234.6 163.7v.7M223.8 136.7v.7M231.1 148.7v.7" stroke="#171717" stroke-width="3.1" stroke-linecap="round" fill="none"/>
<path d="M237.5 144.4v.7M250.6 150.6v.7M247.0 137.0v.7M246.0 150.9v.7M250.8 170.1v.7M241.2 163.7v.7M240.3 167.2v.7M250.8 152.5v.7M236.6 146.1v.7M247.9 152.6v.7M236.7 162.3v.7M249.2 171.1v.7M244.9 148.4v.7M236.8 155.4v.7M242.1 168.6v.7M247.6 151.2v.7M239.5 146.1v.7M238.5 167.1v.7M237.5 145.5v.7M238.8 167.7v.7M245.4 169.7v.7M249.5 140.4v.7M245.4 164.9v.7M244.8 144.1v.7M244.8 131.7v.7M237.9 150.9v.7M240.5 157.3v.7M239.7 157.7v.7M242.7 153.0v.7M239.7 169.5v.7M246.8 169.4v.7M239.5 161.8v.7M246.7 129.0v.7M236.4 156.6v.7M246.4 134.6v.7M240.3 151.0v.7M237.0 147.9v.7M247.6 138.2v.7M241.3 171.7v.7M239.3 166.7v.7M245.3 137.1v.7M250.6 165.6v.7M245.5 155.3v.7M241.2 143.8v.7M245.7 166.0v.7M238.0 170.0v.7M241.6 162.4v.7M237.5 139.1v.7M237.1 169.7v.7M250.7 159.9v.7M239.5 171.9v.7M248.2 166.5v.7M236.4 151.7v.7M247.6 172.7v.7M245.7 146.3v.7M247.7 159.9v.7M246.0 170.5v.7M243.3 158.9v.7M245.8 145.8v.7M249.0 162.6v.7M247.6 166.6v.7M238.2 157.5v.7M250.8 162.5v.7M248.5 138.9v.7M250.4 156.1v.7M244.7 140.1v.7M237.7 138.6v.7M249.1 153.8v.7M240.2 153.8v.7M236.8 161.1v.7M249.9 167.3v.7M243.1 168.9v.7M243.8 151.6v.7M237.7 142.2v.7M246.0 160.3v.7M244.4 167.6v.7M249.3 162.8v.7M248.7 163.6v.7M248.7 162.4v.7M250.8 163.9v.7M241.5 165.1v.7M245.9 158.0v.7M240.1 142.9v.7M239.1 161.1v.7M241.6 169.4v.7M241.7 161.2v.7M243.8 163.1v.7M237.5 167.4v.7M249.3 159.6v.7M243.0 164.2v.7M239.9 158.9v.7M244.7 143.0v.7M247.4 139.1v.7M240.1 161.3v.7M245.5 159.7v.7M247.5 133.6v.7M239.5 165.0v.7M245.3 140.6v.7M240.1 166.5v.7M245.1 140.5v.7M244.5 133.8v.7M250.8 147.8v.7M248.6 168.9v.7M249.9 153.2v.7M237.0 168.4v.7M249.4 150.6v.7M245.1 165.3v.7M243.9 158.6v.7M240.8 142.6v.7M240.4 149.4v.7M242.5 163.8v.7M237.6 150.6v.7M239.6 168.6v.7M243.3 167.2v.7M245.8 145.5v.7M250.4 170.0v.7M241.9 157.5v.7M240.2 138.2v.7M240.4 149.3v.7M241.8 156.5v.7M245.3 143.9v.7M236.7 149.0v.7M240.4 133.6v.7M237.9 170.9v.7M236.6 147.8v.7M244.5 169.7v.7M238.1 136.3v.7M246.2 149.6v.7M242.5 151.5v.7M239.9 133.7v.7M241.4 135.2v.7M245.7 162.3v.7M238.2 150.7v.7M249.2 131.5v.7M236.4 135.3v.7M241.3 146.4v.7M239.2 166.7v.7M249.3 138.6v.7M237.2 140.1v.7M250.7 146.2v.7M238.0 135.8v.7M245.1 158.2v.7M244.5 168.1v.7M240.1 154.9v.7M245.7 163.4v.7M239.0 131.1v.7M240.1 146.7v.7M250.0 165.3v.7M240.9 169.4v.7M241.6 168.3v.7M247.5 158.0v.7M248.2 155.1v.7M237.8 152.6v.7M249.8 166.6v.7M237.5 142.5v.7M238.9 155.6v.7M238.3 166.1v.7M242.1 169.6v.7M245.4 137.3v.7M247.8 159.2v.7M242.2 170.2v.7M249.8 134.8v.7M250.8 165.9v.7M248.2 162.2v.7M250.8 127.8v.7M247.6 128.4v.7M246.0 172.6v.7M241.4 133.3v.7M243.2 160.2v.7M238.9 147.1v.7M244.7 138.4v.7M245.9 161.1v.7M247.1 129.8v.7" stroke="#9c9c9c" stroke-width="3.1" stroke-linecap="round" fill="none"/>
<path d="M259.6 136.8v.7M257.3 171.7v.7M252.5 151.9v.7M262.6 145.8v.7M252.8 166.2v.7M253.7 163.7v.7M258.3 167.8v.7M260.3 142.7v.7M261.8 167.8v.7M258.0 166.4v.7M261.8 149.6v.7M260.4 152.5v.7M254.7 162.4v.7M253.8 169.5v.7M260.8 132.1v.7M255.3 169.3v.7M262.5 166.7v.7M258.0 172.4v.7M259.6 168.3v.7M253.5 154.5v.7M254.5 169.2v.7M256.0 160.5v.7M260.1 143.9v.7M253.7 169.5v.7M256.0 157.2v.7M255.2 156.2v.7M256.3 168.1v.7M254.9 157.2v.7M260.8 152.5v.7M253.9 153.1v.7M259.9 156.6v.7M259.5 146.8v.7M262.5 142.3v.7M262.2 147.9v.7M252.7 163.9v.7M259.0 171.4v.7M261.8 146.5v.7M259.3 155.1v.7M251.6 152.3v.7M260.0 166.2v.7M260.5 153.0v.7M252.8 170.2v.7M259.7 130.8v.7M260.6 153.9v.7M258.1 149.8v.7M258.2 172.8v.7M254.2 168.6v.7M260.4 166.4v.7M255.2 161.1v.7M254.9 156.6v.7M252.8 152.5v.7M258.5 163.0v.7M252.7 152.2v.7M252.3 145.9v.7M253.9 150.2v.7M260.2 147.7v.7M261.9 155.1v.7M259.3 165.4v.7M256.5 163.1v.7M262.6 151.7v.7M260.0 171.9v.7M253.4 172.5v.7M262.6 153.1v.7M253.1 160.3v.7M256.3 165.1v.7M252.5 156.7v.7M254.3 152.0v.7M260.8 164.1v.7M256.7 171.2v.7M259.2 168.0v.7M252.4 146.5v.7M253.8 168.3v.7M262.0 143.7v.7M255.8 157.2v.7M261.7 155.9v.7M260.5 165.6v.7M255.6 161.0v.7M257.9 149.8v.7M258.3 157.5v.7M258.7 172.9v.7M261.8 159.1v.7M259.9 138.0v.7M259.4 165.6v.7M256.2 171.0v.7M257.3 165.6v.7M253.8 150.4v.7M262.4 148.0v.7M261.8 159.7v.7M254.0 149.8v.7M262.4 141.6v.7M258.4 170.7v.7M255.1 148.3v.7M251.8 171.7v.7M262.6 162.9v.7M254.9 166.4v.7M260.0 143.8v.7M253.5 171.1v.7M261.3 144.3v.7" stroke="#171717" stroke-width="3.1" stroke-linecap="round" fill="none"/>
<path d="M267.9 160.7v.7M269.8 148.5v.7M263.4 149.0v.7M264.9 160.1v.7M270.4 169.2v.7M264.3 165.5v.7M263.7 157.0v.7M264.8 163.4v.7M264.1 171.5v.7M264.1 144.0v.7M266.0 150.3v.7M265.4 152.1v.7M271.4 143.6v.7M263.4 171.1v.7M265.2 151.2v.7M264.0 135.3v.7M269.8 137.5v.7M265.0 144.9v.7M271.9 153.1v.7M265.2 141.1v.7M266.7 160.7v.7M263.7 169.1v.7M265.2 153.8v.7M263.4 152.7v.7M271.9 145.0v.7M270.9 165.6v.7M269.3 165.4v.7M269.3 161.9v.7M265.1 130.7v.7M267.2 146.9v.7M269.6 171.8v.7M266.8 168.8v.7M271.7 156.0v.7M266.4 130.9v.7M264.1 128.1v.7M267.8 171.1v.7M265.2 153.0v.7M263.4 129.6v.7M265.1 171.6v.7M263.4 155.2v.7M269.9 155.3v.7M266.8 171.6v.7M270.6 157.7v.7M271.8 150.3v.7M266.3 161.7v.7M269.0 159.0v.7M269.1 154.3v.7M266.2 160.3v.7M271.0 142.8v.7M268.6 159.7v.7M268.3 141.6v.7M271.2 136.8v.7M264.8 164.1v.7M268.8 152.8v.7M265.0 136.0v.7M266.4 139.2v.7M263.5 169.8v.7M265.2 141.2v.7M265.1 157.6v.7M268.2 162.0v.7M271.4 137.8v.7M265.8 144.5v.7M268.8 143.0v.7M264.4 139.9v.7M265.1 128.8v.7M263.7 143.2v.7M271.9 164.8v.7M268.5 142.3v.7M263.4 152.9v.7M265.2 148.7v.7M269.0 141.6v.7M271.0 148.8v.7M269.1 154.4v.7M271.0 138.9v.7M264.2 143.2v.7M267.5 135.3v.7M264.7 135.1v.7M271.9 142.0v.7M269.1 157.2v.7M266.4 171.6v.7M271.9 142.6v.7M269.3 140.8v.7M269.4 144.5v.7M267.6 172.7v.7M263.4 139.9v.7M271.8 163.1v.7M263.4 158.0v.7M271.4 141.6v.7M265.7 145.7v.7M263.7 163.1v.7M269.5 130.4v.7M266.8 150.8v.7M264.5 166.4v.7M263.9 128.5v.7M267.1 140.0v.7M271.6 152.3v.7M271.8 154.8v.7M269.2 167.7v.7M269.2 164.1v.7M263.8 144.8v.7M264.3 143.9v.7M271.9 168.1v.7M267.3 132.6v.7M267.1 141.4v.7M270.1 166.7v.7M267.9 157.0v.7M271.1 171.6v.7M269.6 131.0v.7M269.9 156.3v.7M265.5 133.4v.7M271.9 152.2v.7M270.8 142.4v.7M268.4 170.7v.7M267.5 128.9v.7M268.4 152.0v.7M266.9 155.0v.7M270.9 168.3v.7M271.8 156.8v.7" stroke="#9c9c9c" stroke-width="3.1" stroke-linecap="round" fill="none"/>
<path d="M277.3 135.1v.7M274.9 161.2v.7M276.5 137.1v.7M273.4 138.8v.7M273.0 132.7v.7M273.2 133.6v.7M274.4 150.5v.7M273.3 152.1v.7M274.6 132.2v.7M276.5 146.0v.7M278.2 145.1v.7M275.0 128.5v.7M274.4 148.6v.7M278.1 140.4v.7M280.0 169.2v.7M278.9 141.4v.7M278.1 153.1v.7M272.7 142.9v.7M279.2 144.3v.7M277.0 135.2v.7M278.5 165.7v.7M277.7 140.1v.7M275.6 157.6v.7M275.0 152.8v.7M277.2 168.8v.7M272.9 162.5v.7M273.8 160.7v.7M280.0 135.6v.7M272.7 134.2v.7M278.7 143.8v.7M277.7 154.6v.7M274.9 148.3v.7M277.4 140.9v.7M279.8 154.4v.7M276.3 138.6v.7M273.3 140.9v.7M278.1 163.3v.7M274.9 150.9v.7M278.1 171.3v.7M273.9 171.3v.7M273.3 150.4v.7M273.4 130.0v.7M277.4 160.2v.7M276.0 157.7v.7M272.7 137.2v.7M275.3 149.6v.7M278.8 172.7v.7M277.3 168.9v.7M276.2 141.6v.7M274.1 169.2v.7M273.6 153.2v.7M279.2 165.4v.7M276.0 139.0v.7M279.0 137.8v.7M279.5 162.7v.7M272.9 147.1v.7M278.8 164.2v.7M275.1 129.9v.7M277.7 141.7v.7M273.2 170.3v.7M275.1 138.6v.7M273.0 147.3v.7M278.2 136.1v.7M274.5 146.2v.7M277.2 142.9v.7M279.8 170.2v.7M273.1 155.5v.7M279.8 167.8v.7M274.0 143.8v.7M276.1 171.2v.7M276.1 161.0v.7M274.3 169.6v.7M276.6 161.4v.7M276.2 141.4v.7M280.0 144.5v.7M273.6 140.2v.7M279.3 155.0v.7M272.7 163.0v.7M273.2 165.1v.7M273.1 171.5v.7M274.2 134.6v.7M280.0 137.0v.7M275.7 165.5v.7M275.4 135.3v.7M274.1 143.0v.7M277.9 147.0v.7M274.4 164.2v.7M278.8 164.7v.7M278.2 162.7v.7M280.0 131.5v.7M280.0 136.9v.7M278.6 135.2v.7M275.7 145.0v.7M275.3 145.6v.7M279.5 169.0v.7M275.0 141.2v.7M273.7 162.2v.7M274.4 162.1v.7M275.4 129.1v.7M278.5 149.2v.7M277.5 160.0v.7M273.7 163.1v.7M272.7 161.4v.7M272.8 156.5v.7M273.6 134.5v.7M277.3 143.4v.7M278.5 136.4v.7" stroke="#171717" stroke-width="3.1" stroke-linecap="round" fill="none"/>
<path d="M287.3 146.2v.7M284.7 168.8v.7M285.0 153.0v.7M280.8 163.5v.7M287.0 154.8v.7M288.1 143.9v.7M283.4 171.3v.7M282.2 134.8v.7M283.9 166.4v.7M283.1 166.8v.7M284.6 153.8v.7M286.9 132.3v.7M286.0 141.8v.7M282.9 164.4v.7M282.0 145.9v.7M286.5 131.6v.7M286.8 146.7v.7M285.6 168.4v.7M281.0 128.7v.7M286.3 167.2v.7M282.5 156.1v.7M286.9 158.0v.7M280.8 157.6v.7M282.4 129.4v.7M282.1 150.2v.7M284.2 151.8v.7M286.3 167.2v.7M282.3 155.6v.7M282.9 147.9v.7M283.8 145.3v.7M285.9 154.5v.7M283.1 127.7v.7M281.4 171.0v.7M283.4 158.2v.7M281.9 162.4v.7M281.1 151.3v.7M286.9 165.5v.7M285.6 173.0v.7M284.6 171.5v.7M287.0 148.6v.7M286.2 166.3v.7M286.6 170.0v.7M283.9 163.7v.7M282.1 156.7v.7M287.9 162.6v.7M284.0 158.6v.7M283.2 144.8v.7M288.2 162.8v.7M284.5 170.7v.7M287.6 130.3v.7M282.2 167.1v.7M286.2 171.4v.7M285.3 170.8v.7M284.2 136.2v.7M284.9 137.4v.7M281.6 172.0v.7M284.5 165.3v.7M282.2 145.3v.7M283.8 161.7v.7M286.9 153.9v.7M284.7 161.0v.7M282.6 169.3v.7M280.8 146.7v.7M287.8 172.0v.7M283.2 167.6v.7M283.8 170.3v.7M283.9 151.8v.7M281.6 160.4v.7M285.2 169.1v.7M288.1 160.0v.7M282.1 163.4v.7M288.2 165.9v.7M288.0 150.9v.7M287.8 166.8v.7M283.0 170.1v.7M287.6 172.9v.7M287.7 160.7v.7M285.1 152.1v.7" stroke="#9c9c9c" stroke-width="3.1" stroke-linecap="round" fill="none"/>
<path d="M292.6 153.8v.7M295.6 134.0v.7M289.0 142.7v.7M292.4 170.8v.7M295.9 132.8v.7M295.3 156.4v.7M292.6 144.0v.7M295.6 134.7v.7M290.3 134.3v.7M297.6 159.0v.7M293.0 149.2v.7M290.0 162.3v.7M297.1 163.7v.7M291.9 161.2v.7M296.0 165.0v.7M292.1 140.2v.7M293.7 140.5v.7M289.9 136.0v.7M292.0 172.1v.7M295.4 160.9v.7M297.3 162.1v.7M296.0 139.9v.7M291.6 150.8v.7M290.3 133.3v.7M292.0 168.3v.7M290.9 164.7v.7M292.2 159.2v.7M292.7 136.8v.7M291.9 156.4v.7M290.1 166.7v.7M297.4 132.1v.7M294.1 147.3v.7M289.5 150.3v.7M295.4 139.7v.7M289.4 166.4v.7M294.1 158.6v.7M294.2 134.6v.7M290.1 124.9v.7M294.0 148.4v.7M289.0 164.2v.7M290.3 155.5v.7M297.6 169.9v.7M297.0 129.7v.7M296.9 155.1v.7M294.6 145.1v.7M290.2 131.4v.7M294.8 140.6v.7M292.2 132.3v.7M294.0 168.9v.7M289.8 129.1v.7M297.5 173.0v.7M291.6 162.2v.7M296.6 160.9v.7M292.2 155.5v.7M296.8 148.0v.7M290.0 167.0v.7M291.8 170.6v.7M293.1 143.1v.7M291.2 133.3v.7M293.8 146.2v.7M295.4 137.8v.7M297.3 156.8v.7M291.1 155.6v.7M289.0 130.7v.7M292.4 171.3v.7M289.0 149.6v.7M295.2 171.6v.7M293.8 157.9v.7M293.2 170.6v.7M289.0 164.0v.7M291.9 152.0v.7M293.0 137.0v.7M289.2 152.0v.7M297.2 153.3v.7M296.2 162.2v.7M297.5 166.7v.7M291.8 170.0v.7M295.5 157.3v.7M290.0 138.4v.7M296.8 162.0v.7M293.1 150.4v.7M289.4 169.7v.7M297.0 164.1v.7M297.3 146.2v.7M297.3 131.9v.7M289.4 136.8v.7M296.0 151.3v.7M295.2 136.0v.7M294.2 172.0v.7M289.2 164.3v.7M289.0 136.8v.7M297.2 170.7v.7M295.5 170.8v.7M292.0 169.1v.7M293.8 169.5v.7M291.0 127.2v.7M291.8 145.9v.7M294.0 160.9v.7M290.3 149.7v.7M294.9 171.7v.7M292.7 141.5v.7M292.5 158.2v.7M295.6 166.7v.7M289.1 140.0v.7M295.0 129.7v.7M292.1 145.6v.7M290.7 127.8v.7M297.6 152.4v.7M295.5 160.5v.7M292.9 166.9v.7M289.7 135.4v.7M296.6 163.7v.7M293.0 133.5v.7M293.1 127.9v.7M292.4 144.0v.7M291.0 138.6v.7M297.6 172.8v.7M294.0 128.4v.7M291.7 165.0v.7M290.1 159.1v.7M292.1 169.5v.7M292.7 163.7v.7M290.0 144.6v.7M292.7 145.7v.7M294.4 142.4v.7M292.7 171.8v.7M290.3 135.0v.7M293.2 140.5v.7M293.3 124.0v.7M295.0 130.6v.7M295.1 145.7v.7M296.3 133.5v.7" stroke="#171717" stroke-width="3.1" stroke-linecap="round" fill="none"/>
<path d="M300.4 169.8v.7M303.4 162.3v.7M303.4 160.5v.7M301.2 136.9v.7M302.0 170.6v.7M298.4 146.4v.7M299.6 169.1v.7M301.7 158.5v.7M298.4 140.0v.7M303.4 172.8v.7M301.4 166.4v.7M301.0 150.5v.7M303.4 137.6v.7M299.0 144.2v.7M298.4 146.5v.7M301.7 157.8v.7M302.1 139.7v.7M299.6 144.6v.7M301.7 135.4v.7M298.6 164.6v.7M303.4 150.1v.7M300.1 161.8v.7M298.9 144.6v.7M298.4 153.9v.7M301.3 139.9v.7M303.4 153.2v.7M303.0 162.0v.7M302.7 162.4v.7M300.1 171.4v.7M300.7 156.1v.7M301.4 167.2v.7M300.9 143.6v.7M302.0 141.9v.7M301.8 145.0v.7M302.3 147.4v.7M301.2 153.2v.7M299.0 167.4v.7M301.3 137.7v.7M301.2 146.5v.7M301.4 145.1v.7M298.9 156.4v.7M300.7 167.1v.7M302.2 158.1v.7M299.5 144.4v.7M300.1 159.9v.7M303.1 151.9v.7M303.4 162.5v.7M301.2 165.1v.7M298.6 138.9v.7M299.7 172.0v.7M301.2 150.1v.7M303.0 134.6v.7M298.8 159.1v.7M303.4 152.5v.7M298.7 149.1v.7M302.9 162.0v.7M302.8 172.4v.7M298.6 170.8v.7M299.6 151.9v.7M298.9 162.5v.7M303.3 136.2v.7M298.4 134.0v.7M303.4 170.5v.7M300.1 169.7v.7M303.4 172.4v.7M299.4 172.1v.7" stroke="#9c9c9c" stroke-width="3.1" stroke-linecap="round" fill="none"/>
<path d="M308.2 132.3v.7M304.3 160.6v.7M309.2 160.5v.7M309.1 165.5v.7M307.6 140.9v.7M305.0 140.8v.7M306.6 142.1v.7M308.8 160.2v.7M306.1 162.0v.7M308.1 163.0v.7M309.0 137.8v.7M304.8 140.1v.7M308.8 158.5v.7M304.2 163.0v.7M305.2 143.1v.7M304.3 149.4v.7M306.3 143.5v.7M306.5 142.7v.7M305.8 162.3v.7M309.2 166.5v.7M304.2 142.0v.7M307.7 145.5v.7M304.7 168.5v.7M308.6 132.3v.7M305.9 162.9v.7M309.2 170.2v.7M304.3 163.4v.7M306.8 143.6v.7M307.2 172.2v.7M306.0 149.5v.7M308.7 160.6v.7M306.3 132.3v.7M309.2 159.0v.7M306.3 143.2v.7M306.8 170.8v.7M307.7 155.2v.7M305.7 147.1v.7M309.2 148.9v.7M307.8 172.8v.7M305.4 172.3v.7M305.7 141.3v.7M307.2 163.2v.7M305.7 139.6v.7M304.2 156.9v.7M308.5 148.0v.7M306.6 144.5v.7M305.8 135.3v.7M305.6 149.1v.7M304.3 154.6v.7M304.2 155.6v.7M307.7 167.2v.7M307.7 153.0v.7M306.4 155.5v.7M308.0 141.7v.7M307.8 162.3v.7M306.0 161.4v.7M304.2 139.1v.7M308.2 145.5v.7M304.7 159.8v.7M306.3 137.8v.7M305.1 151.8v.7M308.4 141.6v.7M304.4 155.4v.7M305.9 168.6v.7M306.3 148.6v.7M307.1 137.4v.7M309.1 162.6v.7M306.8 133.6v.7" stroke="#171717" stroke-width="3.1" stroke-linecap="round" fill="none"/>
<path d="M310.2 155.1v.7M310.9 144.9v.7M314.4 171.9v.7M313.2 156.1v.7M310.4 172.6v.7M311.3 165.8v.7M310.3 142.7v.7M313.8 148.2v.7M315.8 135.7v.7M314.0 145.9v.7M313.0 164.1v.7M312.2 164.9v.7M315.2 164.3v.7M312.0 136.6v.7M313.9 156.7v.7M313.6 137.9v.7M315.7 150.7v.7M314.1 162.8v.7M311.9 140.9v.7M310.4 169.8v.7M311.6 132.2v.7M312.0 143.3v.7M311.8 153.6v.7M310.0 152.7v.7M312.2 140.7v.7M316.1 147.4v.7M312.7 172.8v.7M316.3 145.3v.7M315.7 136.7v.7M313.0 172.6v.7M312.2 165.1v.7M312.3 140.0v.7M315.3 147.3v.7M312.1 149.9v.7M311.0 168.2v.7M311.5 165.6v.7M312.2 154.1v.7M311.2 160.5v.7M315.1 167.8v.7M314.2 162.2v.7M313.4 128.8v.7M312.3 140.9v.7M314.7 169.6v.7M312.7 153.7v.7M315.3 166.7v.7M311.6 170.4v.7M310.0 152.4v.7M314.8 146.6v.7M314.6 156.9v.7M313.8 128.0v.7M313.2 152.2v.7M311.1 139.7v.7M312.3 132.3v.7M311.4 164.8v.7M313.5 152.6v.7M311.5 141.7v.7M311.9 161.2v.7M312.6 146.1v.7M313.2 130.9v.7M314.6 167.0v.7M313.1 152.0v.7M312.7 152.9v.7M315.1 152.2v.7M313.2 149.3v.7M311.3 168.3v.7M310.5 146.8v.7M310.0 162.2v.7M315.1 132.4v.7M312.2 169.8v.7M311.4 138.5v.7M315.6 168.6v.7M314.3 127.4v.7M311.3 159.3v.7M312.0 162.3v.7M313.8 158.8v.7M315.3 143.1v.7M313.9 149.5v.7M311.8 172.2v.7M315.6 169.4v.7M311.1 154.7v.7M311.7 153.1v.7M315.1 135.2v.7M316.3 157.2v.7M311.5 155.9v.7" stroke="#9c9c9c" stroke-width="3.1" stroke-linecap="round" fill="none"/>
<path d="M317.3 152.7v.7M318.8 155.6v.7M317.1 169.8v.7M319.7 163.2v.7M318.2 168.5v.7M317.1 150.1v.7M318.5 148.4v.7M318.3 155.9v.7M319.5 148.7v.7M319.7 146.8v.7M318.7 168.1v.7M319.0 152.9v.7M320.8 153.6v.7M319.1 134.9v.7M319.3 165.8v.7M318.9 161.8v.7M319.3 150.2v.7M317.5 162.6v.7M317.3 142.0v.7M319.8 159.7v.7M317.1 153.5v.7M317.1 145.8v.7M320.9 154.3v.7M318.8 168.1v.7M317.8 166.9v.7M318.0 131.7v.7M318.4 165.2v.7M319.8 158.3v.7M320.5 159.0v.7M320.9 163.7v.7M320.9 172.2v.7M319.9 151.3v.7M319.2 147.6v.7M318.0 139.3v.7M320.9 135.5v.7M318.4 156.8v.7M319.5 166.6v.7M320.0 151.5v.7M318.7 168.1v.7M320.9 167.8v.7M320.6 148.9v.7M320.7 149.6v.7M319.9 159.3v.7M319.7 147.7v.7M317.2 139.2v.7M318.9 149.5v.7M319.5 144.6v.7" stroke="#171717" stroke-width="3.1" stroke-linecap="round" fill="none"/>
<path d="M323.1 163.0v.7M327.0 132.5v.7M323.9 129.4v.7M326.1 156.1v.7M327.2 141.1v.7M322.9 137.0v.7M326.5 152.4v.7M322.9 166.4v.7M324.5 139.5v.7M326.3 127.2v.7M323.7 156.4v.7M322.5 152.4v.7M325.9 142.6v.7M326.2 145.7v.7M327.2 148.2v.7M326.0 168.2v.7M325.7 149.3v.7M323.6 152.6v.7M323.2 151.8v.7M326.7 139.3v.7M326.3 151.6v.7M323.5 165.7v.7M323.9 170.3v.7M321.9 166.7v.7M324.5 166.6v.7M324.5 153.4v.7M322.5 162.1v.7M324.5 164.7v.7M321.7 165.1v.7M324.4 143.5v.7M325.7 139.7v.7M324.7 151.0v.7M321.8 171.0v.7M322.7 150.9v.7M324.6 139.7v.7M327.2 141.9v.7M325.9 138.1v.7M326.8 135.6v.7M322.6 135.2v.7M323.8 146.0v.7M326.5 143.4v.7M321.9 149.9v.7M324.1 163.9v.7M325.3 152.7v.7M325.7 151.9v.7M325.7 164.4v.7M322.9 137.0v.7M323.5 141.9v.7M326.2 145.2v.7M325.6 165.8v.7M321.9 170.1v.7M321.9 144.5v.7M324.1 160.2v.7M323.9 133.2v.7M325.2 138.6v.7M324.8 132.1v.7M324.8 157.8v.7M323.1 132.9v.7M325.4 149.6v.7M322.5 156.4v.7M326.7 164.6v.7M324.9 159.2v.7M322.7 134.0v.7M324.5 151.0v.7M322.7 167.8v.7M324.7 142.2v.7M324.8 162.5v.7M324.8 157.3v.7M321.7 163.5v.7M327.1 152.2v.7M323.5 162.5v.7M323.4 137.9v.7M322.5 171.3v.7M322.7 142.2v.7M323.7 139.5v.7M325.9 142.6v.7M321.7 163.3v.7M327.2 128.6v.7M323.6 164.7v.7M321.7 159.0v.7M321.7 170.3v.7M327.1 131.9v.7" stroke="#9c9c9c" stroke-width="3.1" stroke-linecap="round" fill="none"/>
<path d="M75.8 79.0v.7M75.8 93.8v.7M96.0 80.2v.7M95.3 88.2v.7M79.1 108.8v.7M84.9 109.4v.7M86.9 110.7v.7M82.0 115.2v.7M92.7 103.5v.7M75.8 120.5v.7M75.8 126.9v.7M86.9 121.5v.7M93.7 119.1v.7M98.6 120.5v.7M97.6 125.7v.7M91.8 127.2v.7M81.0 131.2v.7M117.9 81.5v.7M130.8 86.4v.7M155.5 96.5v.7M154.5 100.0v.7M156.5 103.5v.7M153.6 107.8v.7M118.5 114.7v.7M121.4 122.4v.7M125.3 121.5v.7M125.3 125.0v.7M129.2 124.4v.7M119.5 127.2v.7M124.4 128.2v.7M156.5 121.5v.7M155.5 126.9v.7M127.3 130.2v.7M134.1 131.2v.7M185.2 86.8v.7M185.8 94.2v.7M184.6 102.0v.7M162.8 107.4v.7M156.0 110.7v.7M194.0 106.8v.7M198.2 107.8v.7M197.9 111.7v.7M185.8 112.7v.7M184.2 115.6v.7M168.6 114.7v.7M197.5 120.5v.7M212.5 119.1v.7M164.4 120.5v.7M191.0 123.0v.7M157.9 126.2v.7M167.7 127.2v.7M189.1 127.7v.7M168.6 131.2v.7M162.8 130.2v.7M268.8 82.5v.7M224.0 97.1v.7M221.7 104.9v.7M248.6 101.0v.7M250.5 102.9v.7M250.5 110.7v.7M245.5 116.6v.7M268.4 110.2v.7M240.8 127.7v.7M248.6 128.2v.7M268.1 127.2v.7M217.8 132.8v.7M212.9 126.2v.7M282.2 80.5v.7M282.9 82.5v.7M317.3 94.6v.7M326.4 100.4v.7M317.3 104.2v.7M299.7 102.4v.7M272.4 102.0v.7M290.3 105.9v.7M268.5 109.8v.7M270.8 113.2v.7M282.9 111.4v.7M290.3 111.4v.7M324.5 111.4v.7M286.8 115.6v.7M316.1 118.0v.7M323.5 117.2v.7M284.5 119.9v.7M315.3 121.5v.7M288.4 127.0v.7M316.1 127.0v.7M323.5 127.0v.7M325.4 130.8v.7" stroke="#9c9c9c" stroke-width="3.1" stroke-linecap="round" fill="none"/>
<path d="M98.6 89.2v.7M103.1 90.7v.7M54.7 97.7v.7M50.8 102.0v.7M51.2 104.9v.7M61.6 105.5v.7M65.5 108.2v.7M62.1 112.7v.7M71.9 109.4v.7M73.8 111.2v.7M103.1 108.2v.7M50.8 116.6v.7M51.8 121.5v.7M60.6 119.5v.7M60.2 123.4v.7M66.4 121.5v.7M68.4 123.4v.7M52.8 127.2v.7M57.7 128.2v.7M53.8 132.8v.7M103.1 116.6v.7M103.4 122.4v.7M74.2 130.2v.7M102.5 92.7v.7M146.4 91.8v.7M152.2 95.2v.7M139.0 101.0v.7M150.7 105.9v.7M116.6 112.7v.7M143.2 112.7v.7M103.5 118.5v.7M152.6 115.6v.7M152.2 119.5v.7M109.7 121.5v.7M107.8 123.4v.7M145.2 123.0v.7M150.3 122.4v.7M152.6 123.4v.7M103.9 127.2v.7M139.0 127.7v.7M114.6 132.2v.7M111.7 133.1v.7M143.8 133.1v.7M151.6 130.2v.7M179.4 80.2v.7M169.6 90.7v.7M199.4 90.7v.7M211.5 96.5v.7M205.3 100.0v.7M182.3 108.8v.7M211.5 105.5v.7M179.9 116.0v.7M199.4 117.6v.7M211.5 113.7v.7M169.0 122.4v.7M178.8 121.5v.7M172.1 126.2v.7M176.4 130.2v.7M182.3 129.2v.7M179.9 132.8v.7M197.9 127.2v.7M202.7 129.6v.7M210.5 125.7v.7M211.5 130.2v.7M171.0 131.6v.7M224.6 107.8v.7M225.2 111.2v.7M227.9 113.2v.7M224.6 116.0v.7M237.7 111.7v.7M252.5 111.2v.7M261.6 114.6v.7M234.9 121.5v.7M233.8 123.4v.7M231.0 126.2v.7M228.5 128.8v.7M235.7 132.8v.7M231.0 133.1v.7M253.8 126.9v.7M261.0 125.0v.7M256.8 133.1v.7M261.0 132.2v.7M274.7 86.0v.7M309.5 85.4v.7M321.5 90.2v.7M280.2 99.7v.7M281.0 101.6v.7M291.9 102.0v.7M274.4 105.5v.7M278.6 112.7v.7M305.9 110.2v.7M279.0 116.6v.7M291.3 113.7v.7M297.2 115.6v.7M295.8 118.6v.7M302.0 117.2v.7M309.5 117.2v.7M318.6 119.9v.7M274.4 121.5v.7M277.1 121.1v.7M293.3 121.1v.7M297.2 121.5v.7M306.9 121.5v.7M305.6 124.4v.7M280.6 125.0v.7M297.8 125.4v.7M307.9 127.2v.7M278.6 131.2v.7M293.9 130.2v.7M306.3 131.2v.7M321.5 129.7v.7" stroke="#171717" stroke-width="3.1" stroke-linecap="round" fill="none"/>
<path d="M42.6 77.3H334.9" stroke="#7f7fc8" stroke-width="1.3"/>
<path d="M65.6 69.0v.7M68.9 66.0v.7M150.0 58.4v.7M290.8 30.0v.7M306.5 72.5v.7M322.0 73.0v.7" stroke="#171717" stroke-width="3.1" stroke-linecap="round" fill="none"/>
<path d="M77.0 50.4v.7M74.9 73.7v.7M247.4 33.2v.7" stroke="#9c9c9c" stroke-width="3.1" stroke-linecap="round" fill="none"/>
<path d="M197.4 76.9v.7" stroke="#6f6fb8" stroke-width="2.9" stroke-linecap="round" fill="none"/>
<text transform="translate(78.60 34.20) scale(1.000 1)" font-size="6.00" font-weight="bold" font-style="normal" text-anchor="start" fill="#111" font-family='"Liberation Sans", sans-serif' textLength="32.5" lengthAdjust="spacingAndGlyphs" stroke="#111" stroke-width="0.3">rs56171351</text>
<path d="M88.40 36.40L81.60 45.00" stroke="#111" stroke-width="1.0"/>
<path d="M79.00 48.30L80.03 43.76L83.17 46.24Z" fill="#111"/>
<text transform="translate(44.50 53.20) scale(1.000 1)" font-size="6.00" font-weight="bold" font-style="normal" text-anchor="start" fill="#2f6fbf" font-family='"Liberation Sans", sans-serif' textLength="29.6" lengthAdjust="spacingAndGlyphs" stroke="#2f6fbf" stroke-width="0.3">rs4970944</text>
<path d="M59.20 54.00L61.43 61.00" stroke="#111" stroke-width="1.0"/>
<path d="M62.70 65.00L59.52 61.60L63.33 60.39Z" fill="#111"/>
<text transform="translate(83.00 55.90) scale(1.000 1)" font-size="6.00" font-weight="bold" font-style="normal" text-anchor="start" fill="#111" font-family='"Liberation Sans", sans-serif' textLength="29.2" lengthAdjust="spacingAndGlyphs" stroke="#111" stroke-width="0.3">rs7542928</text>
<path d="M83.50 57.20L76.12 61.56" stroke="#111" stroke-width="1.0"/>
<path d="M72.50 63.70L75.10 59.84L77.13 63.29Z" fill="#111"/>
<text transform="translate(89.50 65.60) scale(1.000 1)" font-size="6.00" font-weight="bold" font-style="normal" text-anchor="start" fill="#111" font-family='"Liberation Sans", sans-serif' textLength="29.2" lengthAdjust="spacingAndGlyphs" stroke="#111" stroke-width="0.3">rs4075904</text>
<path d="M89.50 67.00L82.53 71.52" stroke="#111" stroke-width="1.0"/>
<path d="M79.00 73.80L81.44 69.84L83.61 73.20Z" fill="#111"/>
<text transform="translate(154.90 41.80) scale(1.000 1)" font-size="6.00" font-weight="bold" font-style="normal" text-anchor="start" fill="#111" font-family='"Liberation Sans", sans-serif' textLength="30.0" lengthAdjust="spacingAndGlyphs" stroke="#111" stroke-width="0.3">rs2560030</text>
<path d="M161.40 42.90L154.13 50.89" stroke="#111" stroke-width="1.0"/>
<path d="M151.30 54.00L152.65 49.55L155.61 52.24Z" fill="#111"/>
<text transform="translate(246.00 15.30) scale(1.000 1)" font-size="6.00" font-weight="bold" font-style="normal" text-anchor="start" fill="#2f6fbf" font-family='"Liberation Sans", sans-serif' textLength="32.4" lengthAdjust="spacingAndGlyphs" stroke="#2f6fbf" stroke-width="0.3">rs17227563</text>
<path d="M257.60 18.20L250.95 25.41" stroke="#111" stroke-width="1.0"/>
<path d="M248.10 28.50L249.48 24.06L252.42 26.77Z" fill="#111"/>
<text transform="translate(292.40 10.20) scale(1.000 1)" font-size="6.00" font-weight="bold" font-style="normal" text-anchor="start" fill="#2f6fbf" font-family='"Liberation Sans", sans-serif' textLength="29.8" lengthAdjust="spacingAndGlyphs" stroke="#2f6fbf" stroke-width="0.3">rs4790206</text>
<path d="M301.40 13.10L295.11 22.06" stroke="#111" stroke-width="1.0"/>
<path d="M292.70 25.50L293.48 20.91L296.75 23.21Z" fill="#111"/>
<text transform="translate(197.00 58.40) scale(1.000 1)" font-size="6.00" font-weight="bold" font-style="normal" text-anchor="start" fill="#111" font-family='"Liberation Sans", sans-serif' textLength="29.6" lengthAdjust="spacingAndGlyphs" stroke="#111" stroke-width="0.3">rs2076740</text>
<path d="M206.40 61.30L199.46 70.90" stroke="#111" stroke-width="1.0"/>
<path d="M197.00 74.30L197.84 69.72L201.08 72.07Z" fill="#111"/>
<text transform="translate(277.30 57.90) scale(1.000 1)" font-size="6.00" font-weight="bold" font-style="normal" text-anchor="start" fill="#111" font-family='"Liberation Sans", sans-serif' textLength="29.7" lengthAdjust="spacingAndGlyphs" stroke="#111" stroke-width="0.3">rs2967607</text>
<path d="M296.00 59.10L302.80 64.88" stroke="#111" stroke-width="1.0"/>
<path d="M306.00 67.60L301.50 66.40L304.10 63.36Z" fill="#111"/>
<text transform="translate(315.80 56.60) scale(1.000 1)" font-size="6.00" font-weight="bold" font-style="normal" text-anchor="start" fill="#111" font-family='"Liberation Sans", sans-serif' textLength="32.4" lengthAdjust="spacingAndGlyphs" stroke="#111" stroke-width="0.3">rs73238114</text>
<path d="M326.80 57.00L323.90 64.02" stroke="#111" stroke-width="1.0"/>
<path d="M322.30 67.90L322.05 63.25L325.75 64.78Z" fill="#111"/>
<text transform="translate(22.90 254.70) scale(1.000 1)" font-size="8.00" font-weight="normal" font-style="normal" text-anchor="start" fill="#222" font-family='"Liberation Sans", sans-serif' textLength="51.0" lengthAdjust="spacingAndGlyphs" stroke="#222" stroke-width="0.2">Chromosome 1:</text>
<path d="M77.8 259.2H302.4" stroke="#9a9a9a" stroke-width="0.9"/>
<path d="M94.2 252.3V259M159.9 252V259M290.5 249.5V259" stroke="#8a8a8a" stroke-width="0.8"/>
<rect x="94.2" y="257.4" width="196.3" height="3.4" fill="#72b04a"/>
<text transform="translate(82.80 253.10) scale(1.000 1)" font-size="7.00" font-weight="normal" font-style="italic" text-anchor="start" fill="#222" font-family='"Liberation Serif", serif' textLength="31.0" lengthAdjust="spacingAndGlyphs" stroke="#222" stroke-width="0.2">151150000</text>
<text transform="translate(145.90 252.80) scale(1.000 1)" font-size="7.00" font-weight="normal" font-style="italic" text-anchor="start" fill="#222" font-family='"Liberation Serif", serif' textLength="30.8" lengthAdjust="spacingAndGlyphs" stroke="#222" stroke-width="0.2">151163000</text>
<text transform="translate(277.20 252.90) scale(1.000 1)" font-size="7.00" font-weight="normal" font-style="normal" text-anchor="start" fill="#222" font-family='"Liberation Serif", serif' textLength="30.9" lengthAdjust="spacingAndGlyphs" stroke="#222" stroke-width="0.15">151246000</text>
<text transform="translate(184.70 260.90) scale(1.000 1)" font-size="5.00" font-weight="bold" font-style="normal" text-anchor="start" fill="#111" font-family='"Liberation Sans", sans-serif' textLength="19.4" lengthAdjust="spacingAndGlyphs">LD block</text>
<text transform="translate(53.90 287.10) scale(1.000 1)" font-size="8.20" font-weight="normal" font-style="italic" text-anchor="start" fill="#1a1a1a" font-family='"Liberation Sans", sans-serif' textLength="20.1" lengthAdjust="spacingAndGlyphs" stroke="#1a1a1a" stroke-width="0.2">VPS72</text>
<path d="M85 284.3H160.9" stroke="#111" stroke-width="1.1"/>
<path d="M160.9 284.3H289" stroke="#9a9a9a" stroke-width="0.9"/>
<path d="M81 284.3L85.2 281.9V286.7Z" fill="#111"/>
<rect x="86.0" y="279.6" width="2.6" height="9.3" fill="#111"/>
<rect x="99.3" y="279.6" width="4.6" height="9.3" fill="#111"/>
<rect x="125.1" y="279.6" width="4.0" height="9.3" fill="#111"/>
<rect x="131.6" y="279.6" width="3.0" height="9.3" fill="#111"/>
<rect x="137.3" y="279.6" width="4.5" height="9.3" fill="#111"/>
<rect x="154.0" y="279.6" width="3.0" height="9.3" fill="#111"/>
<path d="M170.6 276.5V291.1" stroke="#e02020" stroke-width="0.9"/>
<ellipse cx="170.6" cy="272.9" rx="5.3" ry="4.1" fill="#ee0000"/>
<text transform="translate(170.60 275.00) scale(1.000 1)" font-size="6.00" font-weight="normal" font-style="normal" text-anchor="middle" fill="#300" font-family='"Liberation Sans", sans-serif' textLength="6.6" lengthAdjust="spacingAndGlyphs">Me</text>
<text transform="translate(171.20 297.80) scale(1.000 1)" font-size="8.00" font-weight="normal" font-style="normal" text-anchor="middle" fill="#222" font-family='"Liberation Sans", sans-serif' textLength="13.3" lengthAdjust="spacingAndGlyphs" stroke="#222" stroke-width="0.25">CpG</text>
<text transform="translate(152.60 308.50) scale(1.000 1)" font-size="8.90" font-weight="bold" font-style="normal" text-anchor="start" fill="#2f6fbf" font-family='"Liberation Sans", sans-serif' textLength="35.2" lengthAdjust="spacingAndGlyphs">rs4970944</text>
<path d="M389 12.6V211.9M388.4 211.3H635.5" stroke="#7a7a7a" stroke-width="1.3" fill="none"/>
<path d="M387.2 202.30H389" stroke="#7a7a7a" stroke-width="0.9"/>
<text transform="translate(385.60 205.20) scale(1.000 1)" font-size="6.70" font-weight="normal" font-style="normal" text-anchor="end" fill="#444" font-family='"Liberation Sans", sans-serif' textLength="8.9" lengthAdjust="spacingAndGlyphs">0.0</text>
<path d="M387.2 176.46H389" stroke="#7a7a7a" stroke-width="0.9"/>
<text transform="translate(385.60 179.36) scale(1.000 1)" font-size="6.70" font-weight="normal" font-style="normal" text-anchor="end" fill="#444" font-family='"Liberation Sans", sans-serif' textLength="8.9" lengthAdjust="spacingAndGlyphs">0.1</text>
<path d="M387.2 150.62H389" stroke="#7a7a7a" stroke-width="0.9"/>
<text transform="translate(385.60 153.52) scale(1.000 1)" font-size="6.70" font-weight="normal" font-style="normal" text-anchor="end" fill="#444" font-family='"Liberation Sans", sans-serif' textLength="8.9" lengthAdjust="spacingAndGlyphs">0.2</text>
<path d="M387.2 124.78H389" stroke="#7a7a7a" stroke-width="0.9"/>
<text transform="translate(385.60 127.68) scale(1.000 1)" font-size="6.70" font-weight="normal" font-style="normal" text-anchor="end" fill="#444" font-family='"Liberation Sans", sans-serif' textLength="8.9" lengthAdjust="spacingAndGlyphs">0.3</text>
<path d="M387.2 98.94H389" stroke="#7a7a7a" stroke-width="0.9"/>
<text transform="translate(385.60 101.84) scale(1.000 1)" font-size="6.70" font-weight="normal" font-style="normal" text-anchor="end" fill="#444" font-family='"Liberation Sans", sans-serif' textLength="8.9" lengthAdjust="spacingAndGlyphs">0.4</text>
<path d="M387.2 73.10H389" stroke="#7a7a7a" stroke-width="0.9"/>
<text transform="translate(385.60 76.00) scale(1.000 1)" font-size="6.70" font-weight="normal" font-style="normal" text-anchor="end" fill="#444" font-family='"Liberation Sans", sans-serif' textLength="8.9" lengthAdjust="spacingAndGlyphs">0.5</text>
<path d="M387.2 47.26H389" stroke="#7a7a7a" stroke-width="0.9"/>
<text transform="translate(385.60 50.16) scale(1.000 1)" font-size="6.70" font-weight="normal" font-style="normal" text-anchor="end" fill="#444" font-family='"Liberation Sans", sans-serif' textLength="8.9" lengthAdjust="spacingAndGlyphs">0.6</text>
<path d="M387.2 21.42H389" stroke="#7a7a7a" stroke-width="0.9"/>
<text transform="translate(385.60 24.32) scale(1.000 1)" font-size="6.70" font-weight="normal" font-style="normal" text-anchor="end" fill="#444" font-family='"Liberation Sans", sans-serif' textLength="8.9" lengthAdjust="spacingAndGlyphs">0.7</text>
<path d="M396.80 211.5V213.6" stroke="#7a7a7a" stroke-width="0.9"/>
<text transform="translate(396.80 220.30) scale(1.000 1)" font-size="6.60" font-weight="normal" font-style="normal" text-anchor="middle" fill="#444" font-family='"Liberation Sans", sans-serif'>15</text>
<path d="M412.70 211.5V213.6" stroke="#7a7a7a" stroke-width="0.9"/>
<text transform="translate(412.70 220.30) scale(1.000 1)" font-size="6.60" font-weight="normal" font-style="normal" text-anchor="middle" fill="#444" font-family='"Liberation Sans", sans-serif'>20</text>
<path d="M428.60 211.5V213.6" stroke="#7a7a7a" stroke-width="0.9"/>
<text transform="translate(428.60 220.30) scale(1.000 1)" font-size="6.60" font-weight="normal" font-style="normal" text-anchor="middle" fill="#444" font-family='"Liberation Sans", sans-serif'>25</text>
<path d="M444.50 211.5V213.6" stroke="#7a7a7a" stroke-width="0.9"/>
<text transform="translate(444.50 220.30) scale(1.000 1)" font-size="6.60" font-weight="normal" font-style="normal" text-anchor="middle" fill="#444" font-family='"Liberation Sans", sans-serif'>30</text>
<path d="M460.40 211.5V213.6" stroke="#7a7a7a" stroke-width="0.9"/>
<text transform="translate(460.40 220.30) scale(1.000 1)" font-size="6.60" font-weight="normal" font-style="normal" text-anchor="middle" fill="#444" font-family='"Liberation Sans", sans-serif'>35</text>
<path d="M476.30 211.5V213.6" stroke="#7a7a7a" stroke-width="0.9"/>
<text transform="translate(476.30 220.30) scale(1.000 1)" font-size="6.60" font-weight="normal" font-style="normal" text-anchor="middle" fill="#444" font-family='"Liberation Sans", sans-serif'>40</text>
<path d="M492.20 211.5V213.6" stroke="#7a7a7a" stroke-width="0.9"/>
<text transform="translate(492.20 220.30) scale(1.000 1)" font-size="6.60" font-weight="normal" font-style="normal" text-anchor="middle" fill="#444" font-family='"Liberation Sans", sans-serif'>45</text>
<path d="M508.10 211.5V213.6" stroke="#7a7a7a" stroke-width="0.9"/>
<text transform="translate(508.10 220.30) scale(1.000 1)" font-size="6.60" font-weight="normal" font-style="normal" text-anchor="middle" fill="#444" font-family='"Liberation Sans", sans-serif'>50</text>
<path d="M524.00 211.5V213.6" stroke="#7a7a7a" stroke-width="0.9"/>
<text transform="translate(524.00 220.30) scale(1.000 1)" font-size="6.60" font-weight="normal" font-style="normal" text-anchor="middle" fill="#444" font-family='"Liberation Sans", sans-serif'>55</text>
<path d="M539.90 211.5V213.6" stroke="#7a7a7a" stroke-width="0.9"/>
<text transform="translate(539.90 220.30) scale(1.000 1)" font-size="6.60" font-weight="normal" font-style="normal" text-anchor="middle" fill="#444" font-family='"Liberation Sans", sans-serif'>60</text>
<path d="M555.80 211.5V213.6" stroke="#7a7a7a" stroke-width="0.9"/>
<text transform="translate(555.80 220.30) scale(1.000 1)" font-size="6.60" font-weight="normal" font-style="normal" text-anchor="middle" fill="#444" font-family='"Liberation Sans", sans-serif'>65</text>
<path d="M571.70 211.5V213.6" stroke="#7a7a7a" stroke-width="0.9"/>
<text transform="translate(571.70 220.30) scale(1.000 1)" font-size="6.60" font-weight="normal" font-style="normal" text-anchor="middle" fill="#444" font-family='"Liberation Sans", sans-serif'>70</text>
<path d="M587.60 211.5V213.6" stroke="#7a7a7a" stroke-width="0.9"/>
<text transform="translate(587.60 220.30) scale(1.000 1)" font-size="6.60" font-weight="normal" font-style="normal" text-anchor="middle" fill="#444" font-family='"Liberation Sans", sans-serif'>75</text>
<path d="M603.50 211.5V213.6" stroke="#7a7a7a" stroke-width="0.9"/>
<text transform="translate(603.50 220.30) scale(1.000 1)" font-size="6.60" font-weight="normal" font-style="normal" text-anchor="middle" fill="#444" font-family='"Liberation Sans", sans-serif'>80</text>
<path d="M619.40 211.5V213.6" stroke="#7a7a7a" stroke-width="0.9"/>
<text transform="translate(619.40 220.30) scale(1.000 1)" font-size="6.60" font-weight="normal" font-style="normal" text-anchor="middle" fill="#444" font-family='"Liberation Sans", sans-serif'>85</text>
<path d="M635.30 211.5V213.6" stroke="#7a7a7a" stroke-width="0.9"/>
<text transform="translate(635.30 220.30) scale(1.000 1)" font-size="6.60" font-weight="normal" font-style="normal" text-anchor="middle" fill="#444" font-family='"Liberation Sans", sans-serif'>90</text>
<text transform="translate(489.30 229.00) scale(1.000 1)" font-size="8.20" font-weight="normal" font-style="normal" text-anchor="start" fill="#111" font-family='"Liberation Sans", sans-serif' textLength="46.0" lengthAdjust="spacingAndGlyphs">Age of onset</text>
<text transform="translate(370.4 165.2) rotate(-90)" font-size="7.8" font-family='"Liberation Sans", sans-serif' fill="#111" textLength="102.4" lengthAdjust="spacingAndGlyphs">cg15625495 methylation level</text>
<circle cx="409.6" cy="193.1" r="2.60" fill="#f25f5c"/><circle cx="415.9" cy="192.5" r="2.60" fill="#f25f5c"/><circle cx="447.6" cy="192.8" r="2.60" fill="#f25f5c"/><circle cx="482.3" cy="190.9" r="2.60" fill="#f25f5c"/><circle cx="482.3" cy="193.1" r="2.60" fill="#f25f5c"/><circle cx="485.8" cy="190.9" r="2.60" fill="#f25f5c"/><circle cx="618.1" cy="192.7" r="2.60" fill="#f25f5c"/><circle cx="624.8" cy="194.3" r="2.60" fill="#f25f5c"/><circle cx="498.0" cy="191.6" r="2.60" fill="#f25f5c"/><circle cx="499.6" cy="192.5" r="2.60" fill="#f25f5c"/><circle cx="501.2" cy="192.0" r="2.60" fill="#f25f5c"/><circle cx="502.8" cy="192.7" r="2.60" fill="#f25f5c"/><circle cx="504.4" cy="192.8" r="2.60" fill="#f25f5c"/><circle cx="506.0" cy="191.0" r="2.60" fill="#f25f5c"/><circle cx="507.6" cy="190.8" r="2.60" fill="#f25f5c"/><circle cx="509.2" cy="193.5" r="2.60" fill="#f25f5c"/><circle cx="510.8" cy="191.6" r="2.60" fill="#f25f5c"/><circle cx="512.4" cy="191.5" r="2.60" fill="#f25f5c"/><circle cx="514.0" cy="194.0" r="2.60" fill="#f25f5c"/><circle cx="515.6" cy="192.3" r="2.60" fill="#f25f5c"/><circle cx="517.2" cy="193.5" r="2.60" fill="#f25f5c"/><circle cx="518.8" cy="192.3" r="2.60" fill="#f25f5c"/><circle cx="520.4" cy="192.8" r="2.60" fill="#f25f5c"/><circle cx="525.2" cy="191.3" r="2.60" fill="#f25f5c"/><circle cx="526.8" cy="192.8" r="2.60" fill="#f25f5c"/><circle cx="528.4" cy="193.6" r="2.60" fill="#f25f5c"/><circle cx="530.0" cy="192.5" r="2.60" fill="#f25f5c"/><circle cx="531.6" cy="193.2" r="2.60" fill="#f25f5c"/><circle cx="533.2" cy="192.9" r="2.60" fill="#f25f5c"/><circle cx="534.8" cy="191.0" r="2.60" fill="#f25f5c"/><circle cx="536.4" cy="193.2" r="2.60" fill="#f25f5c"/><circle cx="538.0" cy="192.7" r="2.60" fill="#f25f5c"/><circle cx="539.6" cy="191.8" r="2.60" fill="#f25f5c"/><circle cx="541.2" cy="190.9" r="2.60" fill="#f25f5c"/><circle cx="542.8" cy="193.6" r="2.60" fill="#f25f5c"/><circle cx="544.4" cy="192.3" r="2.60" fill="#f25f5c"/><circle cx="546.0" cy="193.1" r="2.60" fill="#f25f5c"/><circle cx="547.6" cy="193.6" r="2.60" fill="#f25f5c"/><circle cx="549.2" cy="193.1" r="2.60" fill="#f25f5c"/><circle cx="550.8" cy="193.7" r="2.60" fill="#f25f5c"/><circle cx="552.4" cy="192.1" r="2.60" fill="#f25f5c"/><circle cx="554.0" cy="193.4" r="2.60" fill="#f25f5c"/><circle cx="555.6" cy="192.2" r="2.60" fill="#f25f5c"/><circle cx="557.2" cy="193.8" r="2.60" fill="#f25f5c"/><circle cx="558.8" cy="193.6" r="2.60" fill="#f25f5c"/><circle cx="560.4" cy="191.1" r="2.60" fill="#f25f5c"/><circle cx="562.0" cy="191.2" r="2.60" fill="#f25f5c"/><circle cx="563.6" cy="191.5" r="2.60" fill="#f25f5c"/><circle cx="565.2" cy="193.9" r="2.60" fill="#f25f5c"/><circle cx="566.8" cy="192.2" r="2.60" fill="#f25f5c"/><circle cx="568.4" cy="192.8" r="2.60" fill="#f25f5c"/><circle cx="570.0" cy="191.8" r="2.60" fill="#f25f5c"/><circle cx="571.6" cy="192.4" r="2.60" fill="#f25f5c"/><circle cx="573.2" cy="192.0" r="2.60" fill="#f25f5c"/><circle cx="574.8" cy="191.9" r="2.60" fill="#f25f5c"/><circle cx="576.4" cy="192.7" r="2.60" fill="#f25f5c"/><circle cx="578.0" cy="192.7" r="2.60" fill="#f25f5c"/><circle cx="579.6" cy="193.7" r="2.60" fill="#f25f5c"/><circle cx="581.2" cy="193.0" r="2.60" fill="#f25f5c"/><circle cx="582.8" cy="193.8" r="2.60" fill="#f25f5c"/><circle cx="584.4" cy="193.5" r="2.60" fill="#f25f5c"/><circle cx="586.0" cy="194.0" r="2.60" fill="#f25f5c"/><circle cx="587.6" cy="192.9" r="2.60" fill="#f25f5c"/><circle cx="592.4" cy="191.3" r="2.60" fill="#f25f5c"/><circle cx="594.0" cy="193.6" r="2.60" fill="#f25f5c"/><circle cx="595.6" cy="193.9" r="2.60" fill="#f25f5c"/><circle cx="597.2" cy="193.7" r="2.60" fill="#f25f5c"/><circle cx="598.8" cy="192.6" r="2.60" fill="#f25f5c"/><circle cx="600.4" cy="193.1" r="2.60" fill="#f25f5c"/><circle cx="602.0" cy="191.5" r="2.60" fill="#f25f5c"/><circle cx="603.6" cy="193.5" r="2.60" fill="#f25f5c"/><circle cx="605.2" cy="192.6" r="2.60" fill="#f25f5c"/><circle cx="606.8" cy="191.7" r="2.60" fill="#f25f5c"/><circle cx="608.4" cy="191.0" r="2.60" fill="#f25f5c"/><circle cx="610.0" cy="193.5" r="2.60" fill="#f25f5c"/><circle cx="511.8" cy="188.9" r="2.60" fill="#f25f5c"/><circle cx="536.3" cy="188.7" r="2.60" fill="#f25f5c"/><circle cx="545.5" cy="189.0" r="2.60" fill="#f25f5c"/><circle cx="555.1" cy="190.0" r="2.60" fill="#f25f5c"/><circle cx="500.7" cy="191.0" r="2.60" fill="#f25f5c"/><circle cx="510.8" cy="189.2" r="2.60" fill="#f25f5c"/>
<path d="M400 112.3L625 165.2" stroke="#8b1c1c" stroke-width="1.9" stroke-dasharray="5.75 5.75" fill="none"/>
<circle cx="409.5" cy="121.0" r="2.60" fill="#1fb03a"/><circle cx="434.8" cy="111.9" r="2.60" fill="#1fb03a"/><circle cx="434.8" cy="117.1" r="2.60" fill="#1fb03a"/><circle cx="444.2" cy="111.3" r="2.60" fill="#1fb03a"/><circle cx="447.1" cy="113.8" r="2.60" fill="#1fb03a"/><circle cx="466.6" cy="110.6" r="2.60" fill="#1fb03a"/><circle cx="472.9" cy="111.0" r="2.60" fill="#1fb03a"/><circle cx="473.0" cy="113.0" r="2.60" fill="#1fb03a"/><circle cx="469.7" cy="116.7" r="2.60" fill="#1fb03a"/><circle cx="476.2" cy="116.7" r="2.60" fill="#1fb03a"/><circle cx="460.4" cy="120.2" r="2.60" fill="#1fb03a"/><circle cx="466.1" cy="123.1" r="2.60" fill="#1fb03a"/><circle cx="466.4" cy="124.8" r="2.60" fill="#1fb03a"/><circle cx="526.8" cy="98.9" r="2.60" fill="#1fb03a"/><circle cx="488.8" cy="111.6" r="2.60" fill="#1fb03a"/><circle cx="495.2" cy="108.6" r="2.60" fill="#1fb03a"/><circle cx="498.5" cy="111.0" r="2.60" fill="#1fb03a"/><circle cx="485.5" cy="118.0" r="2.60" fill="#1fb03a"/><circle cx="482.0" cy="122.3" r="2.60" fill="#1fb03a"/><circle cx="488.8" cy="122.3" r="2.60" fill="#1fb03a"/><circle cx="491.7" cy="124.2" r="2.60" fill="#1fb03a"/><circle cx="495.2" cy="121.3" r="2.60" fill="#1fb03a"/><circle cx="498.5" cy="117.4" r="2.60" fill="#1fb03a"/><circle cx="499.5" cy="124.2" r="2.60" fill="#1fb03a"/><circle cx="498.5" cy="129.7" r="2.60" fill="#1fb03a"/><circle cx="502.4" cy="128.1" r="2.60" fill="#1fb03a"/><circle cx="505.3" cy="115.5" r="2.60" fill="#1fb03a"/><circle cx="507.3" cy="110.6" r="2.60" fill="#1fb03a"/><circle cx="510.2" cy="106.7" r="2.60" fill="#1fb03a"/><circle cx="505.3" cy="119.4" r="2.60" fill="#1fb03a"/><circle cx="510.2" cy="118.4" r="2.60" fill="#1fb03a"/><circle cx="513.1" cy="114.5" r="2.60" fill="#1fb03a"/><circle cx="517.0" cy="110.6" r="2.60" fill="#1fb03a"/><circle cx="520.0" cy="115.5" r="2.60" fill="#1fb03a"/><circle cx="517.0" cy="119.4" r="2.60" fill="#1fb03a"/><circle cx="514.1" cy="125.2" r="2.60" fill="#1fb03a"/><circle cx="510.2" cy="132.0" r="2.60" fill="#1fb03a"/><circle cx="517.0" cy="138.2" r="2.60" fill="#1fb03a"/><circle cx="517.0" cy="144.7" r="2.60" fill="#1fb03a"/><circle cx="526.8" cy="138.8" r="2.60" fill="#1fb03a"/><circle cx="526.4" cy="116.4" r="2.60" fill="#1fb03a"/><circle cx="530.3" cy="110.6" r="2.60" fill="#1fb03a"/><circle cx="532.6" cy="105.7" r="2.60" fill="#1fb03a"/><circle cx="533.6" cy="113.5" r="2.60" fill="#1fb03a"/><circle cx="526.8" cy="113.5" r="2.60" fill="#1fb03a"/><circle cx="531.6" cy="120.3" r="2.60" fill="#1fb03a"/><circle cx="529.7" cy="126.2" r="2.60" fill="#1fb03a"/><circle cx="536.5" cy="122.3" r="2.60" fill="#1fb03a"/><circle cx="538.4" cy="111.6" r="2.60" fill="#1fb03a"/><circle cx="538.4" cy="130.1" r="2.60" fill="#1fb03a"/><circle cx="536.5" cy="153.4" r="2.60" fill="#1fb03a"/><circle cx="545.7" cy="106.3" r="2.60" fill="#1fb03a"/><circle cx="552.1" cy="109.0" r="2.60" fill="#1fb03a"/><circle cx="540.5" cy="111.6" r="2.60" fill="#1fb03a"/><circle cx="542.4" cy="111.6" r="2.60" fill="#1fb03a"/><circle cx="539.9" cy="114.5" r="2.60" fill="#1fb03a"/><circle cx="542.8" cy="114.5" r="2.60" fill="#1fb03a"/><circle cx="536.6" cy="120.7" r="2.60" fill="#1fb03a"/><circle cx="538.9" cy="123.8" r="2.60" fill="#1fb03a"/><circle cx="538.9" cy="130.1" r="2.60" fill="#1fb03a"/><circle cx="542.8" cy="133.6" r="2.60" fill="#1fb03a"/><circle cx="548.6" cy="134.0" r="2.60" fill="#1fb03a"/><circle cx="545.7" cy="124.2" r="2.60" fill="#1fb03a"/><circle cx="548.6" cy="117.4" r="2.60" fill="#1fb03a"/><circle cx="549.6" cy="121.3" r="2.60" fill="#1fb03a"/><circle cx="550.6" cy="126.2" r="2.60" fill="#1fb03a"/><circle cx="554.5" cy="126.2" r="2.60" fill="#1fb03a"/><circle cx="553.5" cy="122.3" r="2.60" fill="#1fb03a"/><circle cx="554.5" cy="114.5" r="2.60" fill="#1fb03a"/><circle cx="558.0" cy="115.5" r="2.60" fill="#1fb03a"/><circle cx="561.3" cy="109.0" r="2.60" fill="#1fb03a"/><circle cx="564.6" cy="110.2" r="2.60" fill="#1fb03a"/><circle cx="564.6" cy="115.5" r="2.60" fill="#1fb03a"/><circle cx="558.4" cy="121.3" r="2.60" fill="#1fb03a"/><circle cx="561.3" cy="121.3" r="2.60" fill="#1fb03a"/><circle cx="558.4" cy="124.2" r="2.60" fill="#1fb03a"/><circle cx="571.0" cy="103.8" r="2.60" fill="#1fb03a"/><circle cx="571.0" cy="109.0" r="2.60" fill="#1fb03a"/><circle cx="564.2" cy="130.1" r="2.60" fill="#1fb03a"/><circle cx="567.1" cy="130.1" r="2.60" fill="#1fb03a"/><circle cx="567.7" cy="139.8" r="2.60" fill="#1fb03a"/><circle cx="574.0" cy="134.9" r="2.60" fill="#1fb03a"/><circle cx="580.4" cy="133.0" r="2.60" fill="#1fb03a"/><circle cx="576.9" cy="117.4" r="2.60" fill="#1fb03a"/><circle cx="580.8" cy="115.5" r="2.60" fill="#1fb03a"/><circle cx="579.4" cy="118.4" r="2.60" fill="#1fb03a"/><circle cx="576.9" cy="122.3" r="2.60" fill="#1fb03a"/><circle cx="583.3" cy="122.3" r="2.60" fill="#1fb03a"/><circle cx="583.7" cy="124.6" r="2.60" fill="#1fb03a"/><circle cx="589.9" cy="119.4" r="2.60" fill="#1fb03a"/><circle cx="593.1" cy="125.2" r="2.60" fill="#1fb03a"/><circle cx="596.2" cy="137.9" r="2.60" fill="#1fb03a"/><circle cx="602.4" cy="119.4" r="2.60" fill="#1fb03a"/><circle cx="605.7" cy="125.6" r="2.60" fill="#1fb03a"/><circle cx="603.0" cy="129.7" r="2.60" fill="#1fb03a"/><circle cx="605.7" cy="133.0" r="2.60" fill="#1fb03a"/><circle cx="618.6" cy="130.1" r="2.60" fill="#1fb03a"/><circle cx="612.1" cy="143.3" r="2.60" fill="#1fb03a"/><circle cx="507.9" cy="116.4" r="2.60" fill="#1fb03a"/><circle cx="511.2" cy="115.1" r="2.60" fill="#1fb03a"/><circle cx="515.1" cy="117.7" r="2.60" fill="#1fb03a"/><circle cx="519.0" cy="119.7" r="2.60" fill="#1fb03a"/><circle cx="507.3" cy="121.6" r="2.60" fill="#1fb03a"/><circle cx="500.8" cy="122.9" r="2.60" fill="#1fb03a"/><circle cx="513.1" cy="121.6" r="2.60" fill="#1fb03a"/><circle cx="516.4" cy="122.9" r="2.60" fill="#1fb03a"/><circle cx="511.2" cy="111.9" r="2.60" fill="#1fb03a"/><circle cx="504.7" cy="113.2" r="2.60" fill="#1fb03a"/>
<circle cx="400.1" cy="71.8" r="2.60" fill="#5f8ff8"/><circle cx="425.3" cy="55.6" r="2.60" fill="#5f8ff8"/><circle cx="444.5" cy="62.3" r="2.60" fill="#5f8ff8"/><circle cx="460.1" cy="72.7" r="2.60" fill="#5f8ff8"/><circle cx="501.1" cy="75.7" r="2.60" fill="#5f8ff8"/><circle cx="504.7" cy="78.1" r="2.60" fill="#5f8ff8"/><circle cx="514.1" cy="58.0" r="2.60" fill="#5f8ff8"/><circle cx="523.4" cy="53.4" r="2.60" fill="#5f8ff8"/><circle cx="533.1" cy="56.8" r="2.60" fill="#5f8ff8"/><circle cx="542.4" cy="53.6" r="2.60" fill="#5f8ff8"/><circle cx="545.3" cy="53.9" r="2.60" fill="#5f8ff8"/><circle cx="571.0" cy="60.9" r="2.60" fill="#5f8ff8"/><circle cx="529.7" cy="64.1" r="2.60" fill="#5f8ff8"/><circle cx="526.8" cy="68.2" r="2.60" fill="#5f8ff8"/><circle cx="533.4" cy="67.7" r="2.60" fill="#5f8ff8"/><circle cx="536.3" cy="65.8" r="2.60" fill="#5f8ff8"/><circle cx="536.0" cy="70.7" r="2.60" fill="#5f8ff8"/><circle cx="533.1" cy="72.8" r="2.60" fill="#5f8ff8"/><circle cx="548.7" cy="68.0" r="2.60" fill="#5f8ff8"/><circle cx="552.0" cy="66.6" r="2.60" fill="#5f8ff8"/><circle cx="548.7" cy="71.4" r="2.60" fill="#5f8ff8"/><circle cx="558.5" cy="73.3" r="2.60" fill="#5f8ff8"/><circle cx="564.7" cy="68.2" r="2.60" fill="#5f8ff8"/><circle cx="577.2" cy="72.8" r="2.60" fill="#5f8ff8"/><circle cx="580.5" cy="71.4" r="2.60" fill="#5f8ff8"/><circle cx="514.1" cy="79.4" r="2.60" fill="#5f8ff8"/><circle cx="542.4" cy="78.7" r="2.60" fill="#5f8ff8"/><circle cx="568.1" cy="80.6" r="2.60" fill="#5f8ff8"/><circle cx="577.2" cy="79.4" r="2.60" fill="#5f8ff8"/>
<text transform="translate(647.40 96.60) scale(1.000 1)" font-size="8.20" font-weight="normal" font-style="normal" text-anchor="start" fill="#111" font-family='"Liberation Sans", sans-serif' textLength="37.0" lengthAdjust="spacingAndGlyphs">rs4970944</text>
<circle cx="652.9" cy="106.3" r="2.7" fill="#f25f5c"/>
<text transform="translate(663.00 108.60) scale(1.000 1)" font-size="6.40" font-weight="normal" font-style="normal" text-anchor="start" fill="#333" font-family='"Liberation Sans", sans-serif' textLength="8.4" lengthAdjust="spacingAndGlyphs">AA</text>
<circle cx="652.9" cy="118.0" r="2.7" fill="#1fb03a"/>
<text transform="translate(663.00 120.30) scale(1.000 1)" font-size="6.40" font-weight="normal" font-style="normal" text-anchor="start" fill="#333" font-family='"Liberation Sans", sans-serif' textLength="8.4" lengthAdjust="spacingAndGlyphs">GA</text>
<circle cx="652.9" cy="129.7" r="2.7" fill="#5f8ff8"/>
<text transform="translate(663.00 132.00) scale(1.000 1)" font-size="6.40" font-weight="normal" font-style="normal" text-anchor="start" fill="#333" font-family='"Liberation Sans", sans-serif' textLength="8.4" lengthAdjust="spacingAndGlyphs">GG</text>
</svg>
</body></html>
